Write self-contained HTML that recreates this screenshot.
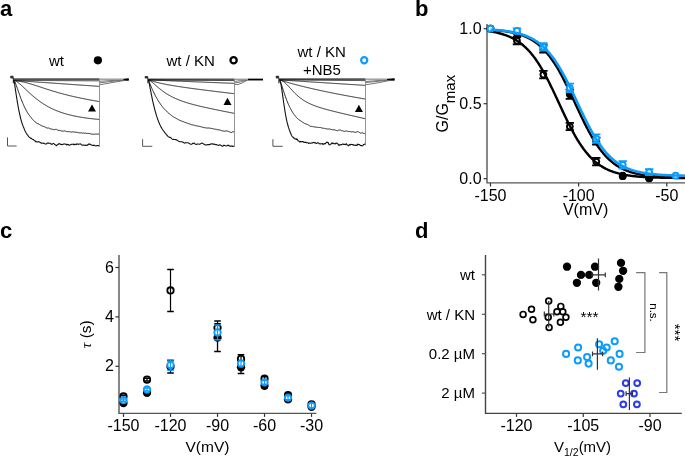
<!DOCTYPE html>
<html><head><meta charset="utf-8"><style>
html,body{margin:0;padding:0;background:#fff;width:685px;height:457px;overflow:hidden}
svg{display:block;will-change:transform}
text{font-family:"Liberation Sans",sans-serif;fill:#000}
</style></head><body>
<svg width="685" height="457" viewBox="0 0 685 457">
<text x="0" y="16" font-size="22" text-anchor="start" font-weight="bold" >a</text>
<text x="415" y="16" font-size="22" text-anchor="start" font-weight="bold" >b</text>
<text x="0" y="238" font-size="22" text-anchor="start" font-weight="bold" >c</text>
<text x="415" y="238" font-size="22" text-anchor="start" font-weight="bold" >d</text>
<rect x="10.2" y="75.8" width="3.4" height="2.6" rx="0.8" fill="#333"/>
<line x1="13.4" y1="77.7" x2="13.4" y2="83.2" stroke="#333" stroke-width="1.2"/>
<line x1="13.9" y1="79.2" x2="99.5" y2="79.2" stroke="#555" stroke-width="1.7"/>
<polyline points="13.90,80.40 14.40,80.40 14.90,80.40 15.40,80.41 15.90,80.41 16.40,80.41 16.90,80.41 17.40,80.42 17.90,80.42 18.41,80.42 18.91,80.42 19.41,80.43 19.91,80.43 20.41,80.43 20.91,80.43 21.41,80.44 21.91,80.44 22.41,80.44 22.91,80.44 23.41,80.44 23.91,80.45 24.41,80.45 24.91,80.45 25.41,80.45 25.91,80.46 26.41,80.46 26.92,80.46 27.42,80.46 27.92,80.47 28.42,80.47 28.92,80.47 29.42,80.47 29.92,80.47 30.42,80.48 30.92,80.48 31.42,80.48 31.92,80.48 32.42,80.49 32.92,80.49 33.42,80.49 33.92,80.49 34.42,80.50 34.92,80.50 35.43,80.50 35.93,80.50 36.43,80.51 36.93,80.51 37.43,80.51 37.93,80.51 38.43,80.51 38.93,80.52 39.43,80.52 39.93,80.52 40.43,80.52 40.93,80.53 41.43,80.53 41.93,80.53 42.43,80.53 42.93,80.54 43.43,80.54 43.94,80.54 44.44,80.54 44.94,80.55 45.44,80.55 45.94,80.55 46.44,80.55 46.94,80.55 47.44,80.56 47.94,80.56 48.44,80.56 48.94,80.56 49.44,80.57 49.94,80.57 50.44,80.57 50.94,80.57 51.44,80.58 51.94,80.58 52.45,80.58 52.95,80.58 53.45,80.58 53.95,80.59 54.45,80.59 54.95,80.59 55.45,80.59 55.95,80.60 56.45,80.60 56.95,80.60 57.45,80.60 57.95,80.61 58.45,80.61 58.95,80.61 59.45,80.61 59.95,80.62 60.45,80.62 60.95,80.62 61.46,80.62 61.96,80.62 62.46,80.63 62.96,80.63 63.46,80.63 63.96,80.63 64.46,80.64 64.96,80.64 65.46,80.64 65.96,80.64 66.46,80.65 66.96,80.65 67.46,80.65 67.96,80.65 68.46,80.65 68.96,80.66 69.46,80.66 69.97,80.66 70.47,80.66 70.97,80.67 71.47,80.67 71.97,80.67 72.47,80.67 72.97,80.68 73.47,80.68 73.97,80.68 74.47,80.68 74.97,80.69 75.47,80.69 75.97,80.69 76.47,80.69 76.97,80.69 77.47,80.70 77.97,80.70 78.48,80.70 78.98,80.70 79.48,80.71 79.98,80.71 80.48,80.71 80.98,80.71 81.48,80.72 81.98,80.72 82.48,80.72 82.98,80.72 83.48,80.73 83.98,80.73 84.48,80.73 84.98,80.73 85.48,80.73 85.98,80.74 86.48,80.74 86.99,80.74 87.49,80.74 87.99,80.75 88.49,80.75 88.99,80.75 89.49,80.75 89.99,80.76 90.49,80.76 90.99,80.76 91.49,80.76 91.99,80.76 92.49,80.77 92.99,80.77 93.49,80.77 93.99,80.77 94.49,80.78 94.99,80.78 95.50,80.78 96.00,80.78 96.50,80.79 97.00,80.79 97.50,80.79 98.00,80.79 98.50,80.80 99.00,80.80 99.50,80.80" fill="none" stroke="#111" stroke-width="0.9" stroke-linejoin="round"/>
<polyline points="13.90,80.40 14.40,80.44 14.90,80.47 15.40,80.51 15.90,80.54 16.40,80.58 16.90,80.61 17.40,80.65 17.90,80.68 18.41,80.72 18.91,80.75 19.41,80.79 19.91,80.82 20.41,80.86 20.91,80.89 21.41,80.93 21.91,80.96 22.41,81.00 22.91,81.03 23.41,81.07 23.91,81.10 24.41,81.14 24.91,81.17 25.41,81.21 25.91,81.24 26.41,81.28 26.92,81.31 27.42,81.35 27.92,81.38 28.42,81.42 28.92,81.45 29.42,81.49 29.92,81.52 30.42,81.56 30.92,81.59 31.42,81.63 31.92,81.66 32.42,81.70 32.92,81.73 33.42,81.77 33.92,81.80 34.42,81.84 34.92,81.87 35.43,81.91 35.93,81.94 36.43,81.98 36.93,82.01 37.43,82.05 37.93,82.08 38.43,82.12 38.93,82.15 39.43,82.19 39.93,82.22 40.43,82.26 40.93,82.29 41.43,82.33 41.93,82.36 42.43,82.40 42.93,82.44 43.43,82.47 43.94,82.51 44.44,82.54 44.94,82.58 45.44,82.61 45.94,82.65 46.44,82.68 46.94,82.72 47.44,82.75 47.94,82.79 48.44,82.82 48.94,82.86 49.44,82.89 49.94,82.93 50.44,82.96 50.94,83.00 51.44,83.03 51.94,83.07 52.45,83.10 52.95,83.14 53.45,83.17 53.95,83.21 54.45,83.24 54.95,83.28 55.45,83.31 55.95,83.35 56.45,83.38 56.95,83.42 57.45,83.45 57.95,83.49 58.45,83.52 58.95,83.56 59.45,83.59 59.95,83.63 60.45,83.66 60.95,83.70 61.46,83.73 61.96,83.77 62.46,83.80 62.96,83.84 63.46,83.87 63.96,83.91 64.46,83.94 64.96,83.98 65.46,84.01 65.96,84.05 66.46,84.08 66.96,84.12 67.46,84.15 67.96,84.19 68.46,84.22 68.96,84.26 69.46,84.29 69.97,84.33 70.47,84.36 70.97,84.40 71.47,84.44 71.97,84.47 72.47,84.51 72.97,84.54 73.47,84.58 73.97,84.61 74.47,84.65 74.97,84.68 75.47,84.72 75.97,84.75 76.47,84.79 76.97,84.82 77.47,84.86 77.97,84.89 78.48,84.93 78.98,84.96 79.48,85.00 79.98,85.03 80.48,85.07 80.98,85.10 81.48,85.14 81.98,85.17 82.48,85.21 82.98,85.24 83.48,85.28 83.98,85.31 84.48,85.35 84.98,85.38 85.48,85.42 85.98,85.45 86.48,85.49 86.99,85.52 87.49,85.56 87.99,85.59 88.49,85.63 88.99,85.66 89.49,85.70 89.99,85.73 90.49,85.77 90.99,85.80 91.49,85.84 91.99,85.87 92.49,85.91 92.99,85.94 93.49,85.98 93.99,86.01 94.49,86.05 94.99,86.08 95.50,86.12 96.00,86.15 96.50,86.19 97.00,86.22 97.50,86.26 98.00,86.29 98.50,86.33 99.00,86.36 99.50,86.40" fill="none" stroke="#111" stroke-width="0.9" stroke-linejoin="round"/>
<polyline points="13.90,80.40 14.40,80.47 14.90,80.53 15.40,80.60 15.90,80.67 16.40,80.74 16.90,80.81 17.40,80.88 17.90,80.96 18.41,81.04 18.91,81.12 19.41,81.21 19.91,81.30 20.41,81.39 20.91,81.48 21.41,81.58 21.91,81.68 22.41,81.79 22.91,81.89 23.41,82.01 23.91,82.12 24.41,82.24 24.91,82.36 25.41,82.48 25.91,82.61 26.41,82.74 26.92,82.87 27.42,83.00 27.92,83.14 28.42,83.28 28.92,83.42 29.42,83.56 29.92,83.71 30.42,83.85 30.92,84.00 31.42,84.15 31.92,84.31 32.42,84.46 32.92,84.62 33.42,84.77 33.92,84.93 34.42,85.09 34.92,85.25 35.43,85.41 35.93,85.57 36.43,85.74 36.93,85.90 37.43,86.06 37.93,86.23 38.43,86.39 38.93,86.56 39.43,86.72 39.93,86.89 40.43,87.05 40.93,87.22 41.43,87.38 41.93,87.55 42.43,87.71 42.93,87.88 43.43,88.04 43.94,88.21 44.44,88.37 44.94,88.54 45.44,88.70 45.94,88.86 46.44,89.02 46.94,89.19 47.44,89.35 47.94,89.51 48.44,89.67 48.94,89.83 49.44,89.99 49.94,90.14 50.44,90.30 50.94,90.46 51.44,90.61 51.94,90.77 52.45,90.92 52.95,91.07 53.45,91.22 53.95,91.38 54.45,91.53 54.95,91.68 55.45,91.82 55.95,91.97 56.45,92.12 56.95,92.26 57.45,92.41 57.95,92.55 58.45,92.69 58.95,92.84 59.45,92.98 59.95,93.12 60.45,93.25 60.95,93.39 61.46,93.53 61.96,93.67 62.46,93.80 62.96,93.93 63.46,94.07 63.96,94.20 64.46,94.33 64.96,94.46 65.46,94.59 65.96,94.72 66.46,94.84 66.96,94.97 67.46,95.10 67.96,95.22 68.46,95.34 68.96,95.47 69.46,95.59 69.97,95.71 70.47,95.83 70.97,95.95 71.47,96.07 71.97,96.18 72.47,96.30 72.97,96.42 73.47,96.53 73.97,96.65 74.47,96.76 74.97,96.87 75.47,96.98 75.97,97.09 76.47,97.20 76.97,97.31 77.47,97.42 77.97,97.53 78.48,97.64 78.98,97.74 79.48,97.85 79.98,97.96 80.48,98.06 80.98,98.16 81.48,98.27 81.98,98.37 82.48,98.47 82.98,98.57 83.48,98.67 83.98,98.77 84.48,98.87 84.98,98.97 85.48,99.07 85.98,99.16 86.48,99.26 86.99,99.36 87.49,99.45 87.99,99.55 88.49,99.64 88.99,99.74 89.49,99.83 89.99,99.92 90.49,100.02 90.99,100.11 91.49,100.20 91.99,100.29 92.49,100.38 92.99,100.47 93.49,100.56 93.99,100.65 94.49,100.74 94.99,100.83 95.50,100.91 96.00,101.00 96.50,101.09 97.00,101.18 97.50,101.26 98.00,101.35 98.50,101.43 99.00,101.52 99.50,101.60" fill="none" stroke="#111" stroke-width="0.9" stroke-linejoin="round"/>
<polyline points="13.90,80.40 14.40,80.48 14.90,80.64 15.40,80.86 15.90,81.11 16.40,81.40 16.90,81.72 17.40,82.06 17.90,82.42 18.41,82.80 18.91,83.20 19.41,83.62 19.91,84.04 20.41,84.48 20.91,84.92 21.41,85.37 21.91,85.83 22.41,86.29 22.91,86.76 23.41,87.23 23.91,87.70 24.41,88.18 24.91,88.65 25.41,89.13 25.91,89.60 26.41,90.08 26.92,90.55 27.42,91.02 27.92,91.49 28.42,91.96 28.92,92.42 29.42,92.89 29.92,93.34 30.42,93.80 30.92,94.25 31.42,94.69 31.92,95.13 32.42,95.57 32.92,96.00 33.42,96.43 33.92,96.86 34.42,97.27 34.92,97.69 35.43,98.09 35.93,98.50 36.43,98.90 36.93,99.29 37.43,99.67 37.93,100.06 38.43,100.43 38.93,100.80 39.43,101.17 39.93,101.53 40.43,101.88 40.93,102.23 41.43,102.58 41.93,102.92 42.43,103.25 42.93,103.58 43.43,103.90 43.94,104.22 44.44,104.53 44.94,104.84 45.44,105.14 45.94,105.44 46.44,105.74 46.94,106.02 47.44,106.31 47.94,106.58 48.44,106.86 48.94,107.13 49.44,107.39 49.94,107.65 50.44,107.91 50.94,108.16 51.44,108.40 51.94,108.64 52.45,108.88 52.95,109.12 53.45,109.35 53.95,109.57 54.45,109.79 54.95,110.01 55.45,110.22 55.95,110.43 56.45,110.64 56.95,110.84 57.45,111.04 57.95,111.23 58.45,111.42 58.95,111.61 59.45,111.80 59.95,111.98 60.45,112.15 60.95,112.33 61.46,112.50 61.96,112.67 62.46,112.83 62.96,112.99 63.46,113.15 63.96,113.31 64.46,113.46 64.96,113.61 65.46,113.76 65.96,113.91 66.46,114.05 66.96,114.19 67.46,114.32 67.96,114.46 68.46,114.59 68.96,114.72 69.46,114.85 69.97,114.97 70.47,115.10 70.97,115.22 71.47,115.33 71.97,115.45 72.47,115.56 72.97,115.68 73.47,115.79 73.97,115.89 74.47,116.00 74.97,116.10 75.47,116.21 75.97,116.31 76.47,116.40 76.97,116.50 77.47,116.60 77.97,116.69 78.48,116.78 78.98,116.87 79.48,116.96 79.98,117.05 80.48,117.13 80.98,117.21 81.48,117.30 81.98,117.38 82.48,117.46 82.98,117.54 83.48,117.61 83.98,117.69 84.48,117.76 84.98,117.83 85.48,117.91 85.98,117.98 86.48,118.05 86.99,118.11 87.49,118.18 87.99,118.25 88.49,118.31 88.99,118.38 89.49,118.44 89.99,118.50 90.49,118.56 90.99,118.62 91.49,118.68 91.99,118.74 92.49,118.79 92.99,118.85 93.49,118.90 93.99,118.96 94.49,119.01 94.99,119.06 95.50,119.11 96.00,119.16 96.50,119.21 97.00,119.26 97.50,119.31 98.00,119.36 98.50,119.41 99.00,119.45 99.50,119.50" fill="none" stroke="#111" stroke-width="0.9" stroke-linejoin="round"/>
<polyline points="13.90,80.40 14.40,80.94 14.90,81.88 15.40,83.02 15.90,84.30 16.40,85.66 16.90,87.08 17.40,88.53 17.90,89.99 18.41,91.45 18.91,92.90 19.41,94.34 19.91,95.75 20.41,97.13 20.91,98.47 21.41,99.78 21.91,101.06 22.41,102.29 22.91,103.49 23.41,104.65 23.91,105.77 24.41,106.85 24.91,107.87 25.41,108.87 25.91,109.82 26.41,110.77 26.92,111.64 27.42,112.51 27.92,113.30 28.42,114.09 28.92,114.74 29.42,115.42 29.92,116.04 30.42,116.72 30.92,117.32 31.42,117.97 31.92,118.58 32.42,119.13 32.92,119.75 33.42,120.26 33.92,120.76 34.42,121.30 34.92,121.81 35.43,122.14 35.93,122.54 36.43,122.99 36.93,123.19 37.43,123.43 37.93,123.74 38.43,123.92 38.93,124.06 39.43,124.48 39.93,124.78 40.43,125.05 40.93,125.48 41.43,125.70 41.93,125.88 42.43,126.09 42.93,126.21 43.43,126.34 43.94,126.62 44.44,126.76 44.94,126.93 45.44,127.27 45.94,127.55 46.44,127.76 46.94,127.95 47.44,128.07 47.94,128.06 48.44,128.01 48.94,128.11 49.44,128.33 49.94,128.62 50.44,128.82 50.94,129.00 51.44,129.11 51.94,129.15 52.45,129.23 52.95,129.47 53.45,129.54 53.95,129.82 54.45,129.71 54.95,129.57 55.45,129.37 55.95,129.42 56.45,129.28 56.95,129.77 57.45,129.95 57.95,130.29 58.45,130.44 58.95,130.55 59.45,130.31 59.95,130.69 60.45,130.64 60.95,130.68 61.46,130.97 61.96,131.17 62.46,131.04 62.96,131.09 63.46,131.13 63.96,130.80 64.46,130.82 64.96,131.01 65.46,131.13 65.96,131.26 66.46,131.59 66.96,131.57 67.46,131.60 67.96,131.60 68.46,131.59 68.96,131.60 69.46,131.81 69.97,131.67 70.47,131.75 70.97,132.01 71.47,132.15 71.97,132.04 72.47,131.83 72.97,132.09 73.47,132.00 73.97,131.84 74.47,132.04 74.97,132.34 75.47,132.27 75.97,132.21 76.47,132.28 76.97,132.13 77.47,132.41 77.97,132.30 78.48,132.63 78.98,132.87 79.48,132.92 79.98,132.76 80.48,132.92 80.98,132.84 81.48,132.70 81.98,133.00 82.48,133.19 82.98,133.07 83.48,133.09 83.98,133.24 84.48,133.20 84.98,133.15 85.48,133.13 85.98,133.42 86.48,133.35 86.99,133.40 87.49,133.42 87.99,133.62 88.49,133.46 88.99,133.43 89.49,133.49 89.99,133.69 90.49,133.78 90.99,133.90 91.49,134.12 91.99,134.12 92.49,134.25 92.99,134.15 93.49,134.15 93.99,134.27 94.49,134.35 94.99,134.01 95.50,133.99 96.00,134.20 96.50,133.97 97.00,133.98 97.50,134.24 98.00,134.45 98.50,134.03 99.00,134.17 99.50,134.14" fill="none" stroke="#111" stroke-width="0.9" stroke-linejoin="round"/>
<polyline points="13.90,80.40 14.40,82.78 14.90,85.96 15.40,89.34 15.90,92.74 16.40,96.07 16.90,99.29 17.40,102.36 17.90,105.26 18.41,107.99 18.91,110.58 19.41,112.96 19.91,115.20 20.41,117.32 20.91,119.33 21.41,121.15 21.91,122.84 22.41,124.32 22.91,125.67 23.41,126.95 23.91,128.08 24.41,129.35 24.91,130.64 25.41,131.62 25.91,132.60 26.41,133.49 26.92,134.13 27.42,134.92 27.92,135.51 28.42,136.17 28.92,136.88 29.42,137.20 29.92,137.50 30.42,138.14 30.92,138.24 31.42,138.37 31.92,138.89 32.42,139.24 32.92,139.46 33.42,139.57 33.92,140.09 34.42,140.60 34.92,140.67 35.43,141.10 35.93,141.99 36.43,141.70 36.93,141.64 37.43,141.84 37.93,141.92 38.43,141.63 38.93,141.78 39.43,142.18 39.93,142.32 40.43,142.45 40.93,143.02 41.43,143.22 41.93,142.99 42.43,143.30 42.93,143.21 43.43,142.94 43.94,143.14 44.44,143.81 44.94,143.81 45.44,143.95 45.94,143.93 46.44,144.05 46.94,143.24 47.44,143.10 47.94,143.22 48.44,143.00 48.94,142.96 49.44,143.30 49.94,143.28 50.44,143.66 50.94,144.06 51.44,144.15 51.94,144.04 52.45,144.19 52.95,143.66 53.45,143.53 53.95,143.53 54.45,144.21 54.95,144.48 55.45,144.91 55.95,145.22 56.45,145.77 56.95,145.16 57.45,144.65 57.95,144.37 58.45,144.17 58.95,143.63 59.45,143.65 59.95,144.07 60.45,144.40 60.95,144.41 61.46,144.38 61.96,144.77 62.46,144.58 62.96,144.18 63.46,144.22 63.96,143.82 64.46,143.97 64.96,144.03 65.46,144.23 65.96,144.25 66.46,144.82 66.96,144.17 67.46,144.58 67.96,144.61 68.46,144.62 68.96,145.21 69.46,145.24 69.97,145.04 70.47,144.92 70.97,144.57 71.47,144.33 71.97,144.29 72.47,144.18 72.97,144.20 73.47,144.57 73.97,143.98 74.47,144.61 74.97,144.65 75.47,144.42 75.97,144.14 76.47,144.41 76.97,143.90 77.47,143.95 77.97,144.31 78.48,144.46 78.98,144.01 79.48,143.99 79.98,144.00 80.48,143.83 80.98,144.37 81.48,144.70 81.98,145.07 82.48,145.16 82.98,145.30 83.48,144.99 83.98,145.32 84.48,145.22 84.98,145.17 85.48,145.09 85.98,145.47 86.48,145.31 86.99,145.53 87.49,144.84 87.99,144.83 88.49,144.17 88.99,144.16 89.49,143.90 89.99,144.33 90.49,144.39 90.99,144.83 91.49,145.07 91.99,145.06 92.49,145.54 92.99,145.48 93.49,145.46 93.99,145.05 94.49,145.41 94.99,145.70 95.50,145.79 96.00,145.94 96.50,145.83 97.00,145.48 97.50,145.57 98.00,145.64 98.50,145.50 99.00,145.97 99.50,146.44" fill="none" stroke="#111" stroke-width="1.1" stroke-linejoin="round"/>
<path d="M99.5,81.3 Q112,80.3 128.5,79.8" fill="none" stroke="#666" stroke-width="0.9"/>
<path d="M99.5,82.8 Q112,81.2 128.5,79.8" fill="none" stroke="#666" stroke-width="0.9"/>
<path d="M99.5,84.8 Q112,82.5 128.5,79.8" fill="none" stroke="#666" stroke-width="0.9"/>
<line x1="99.5" y1="79.2" x2="129" y2="79.2" stroke="#999" stroke-width="1.4"/>
<line x1="99.5" y1="79.2" x2="99.5" y2="145.8" stroke="#888" stroke-width="0.9"/>
<path d="M123.5,79.1 L128.5,78.3 Q129.3,79.5 128.5,80.7 L123.5,79.9 Z" fill="#000"/>
<path d="M88,111.6 L92,104.4 L96,111.6 Z" fill="#000"/>
<path d="M7.5,137.4 V146 H16.6" fill="none" stroke="#555" stroke-width="1"/>
<rect x="144.70000000000002" y="75.89999999999999" width="3.4" height="2.6" rx="0.8" fill="#333"/>
<line x1="147.9" y1="77.8" x2="147.9" y2="83.3" stroke="#333" stroke-width="1.2"/>
<line x1="148.4" y1="79.3" x2="234.5" y2="79.3" stroke="#555" stroke-width="1.7"/>
<polyline points="148.40,79.90 148.90,79.90 149.40,79.91 149.90,79.91 150.40,79.92 150.90,79.92 151.40,79.92 151.90,79.93 152.40,79.93 152.91,79.94 153.41,79.94 153.91,79.94 154.41,79.95 154.91,79.95 155.41,79.96 155.91,79.96 156.41,79.97 156.91,79.97 157.41,79.97 157.91,79.98 158.41,79.98 158.91,79.99 159.41,79.99 159.91,79.99 160.41,80.00 160.91,80.00 161.42,80.01 161.92,80.01 162.42,80.01 162.92,80.02 163.42,80.02 163.92,80.03 164.42,80.03 164.92,80.03 165.42,80.04 165.92,80.04 166.42,80.05 166.92,80.05 167.42,80.05 167.92,80.06 168.42,80.06 168.92,80.07 169.42,80.07 169.93,80.08 170.43,80.08 170.93,80.08 171.43,80.09 171.93,80.09 172.43,80.10 172.93,80.10 173.43,80.10 173.93,80.11 174.43,80.11 174.93,80.12 175.43,80.12 175.93,80.12 176.43,80.13 176.93,80.13 177.43,80.14 177.93,80.14 178.43,80.14 178.94,80.15 179.44,80.15 179.94,80.16 180.44,80.16 180.94,80.16 181.44,80.17 181.94,80.17 182.44,80.18 182.94,80.18 183.44,80.18 183.94,80.19 184.44,80.19 184.94,80.20 185.44,80.20 185.94,80.21 186.44,80.21 186.94,80.21 187.45,80.22 187.95,80.22 188.45,80.23 188.95,80.23 189.45,80.23 189.95,80.24 190.45,80.24 190.95,80.25 191.45,80.25 191.95,80.25 192.45,80.26 192.95,80.26 193.45,80.27 193.95,80.27 194.45,80.27 194.95,80.28 195.45,80.28 195.96,80.29 196.46,80.29 196.96,80.29 197.46,80.30 197.96,80.30 198.46,80.31 198.96,80.31 199.46,80.32 199.96,80.32 200.46,80.32 200.96,80.33 201.46,80.33 201.96,80.34 202.46,80.34 202.96,80.34 203.46,80.35 203.96,80.35 204.47,80.36 204.97,80.36 205.47,80.36 205.97,80.37 206.47,80.37 206.97,80.38 207.47,80.38 207.97,80.38 208.47,80.39 208.97,80.39 209.47,80.40 209.97,80.40 210.47,80.40 210.97,80.41 211.47,80.41 211.97,80.42 212.47,80.42 212.98,80.42 213.48,80.43 213.98,80.43 214.48,80.44 214.98,80.44 215.48,80.45 215.98,80.45 216.48,80.45 216.98,80.46 217.48,80.46 217.98,80.47 218.48,80.47 218.98,80.47 219.48,80.48 219.98,80.48 220.48,80.49 220.98,80.49 221.48,80.49 221.99,80.50 222.49,80.50 222.99,80.51 223.49,80.51 223.99,80.51 224.49,80.52 224.99,80.52 225.49,80.53 225.99,80.53 226.49,80.53 226.99,80.54 227.49,80.54 227.99,80.55 228.49,80.55 228.99,80.56 229.49,80.56 229.99,80.56 230.50,80.57 231.00,80.57 231.50,80.58 232.00,80.58 232.50,80.58 233.00,80.59 233.50,80.59 234.00,80.60 234.50,80.60" fill="none" stroke="#111" stroke-width="0.9" stroke-linejoin="round"/>
<polyline points="148.40,79.90 148.90,79.92 149.40,79.94 149.90,79.96 150.40,79.98 150.90,80.00 151.40,80.02 151.90,80.04 152.40,80.06 152.91,80.08 153.41,80.10 153.91,80.12 154.41,80.14 154.91,80.16 155.41,80.18 155.91,80.21 156.41,80.23 156.91,80.25 157.41,80.27 157.91,80.29 158.41,80.31 158.91,80.33 159.41,80.35 159.91,80.37 160.41,80.39 160.91,80.41 161.42,80.43 161.92,80.45 162.42,80.47 162.92,80.49 163.42,80.51 163.92,80.53 164.42,80.55 164.92,80.57 165.42,80.59 165.92,80.61 166.42,80.63 166.92,80.65 167.42,80.67 167.92,80.69 168.42,80.71 168.92,80.73 169.42,80.75 169.93,80.78 170.43,80.80 170.93,80.82 171.43,80.84 171.93,80.86 172.43,80.88 172.93,80.90 173.43,80.92 173.93,80.94 174.43,80.96 174.93,80.98 175.43,81.00 175.93,81.02 176.43,81.04 176.93,81.06 177.43,81.08 177.93,81.10 178.43,81.12 178.94,81.14 179.44,81.16 179.94,81.18 180.44,81.20 180.94,81.22 181.44,81.24 181.94,81.26 182.44,81.28 182.94,81.30 183.44,81.32 183.94,81.34 184.44,81.37 184.94,81.39 185.44,81.41 185.94,81.43 186.44,81.45 186.94,81.47 187.45,81.49 187.95,81.51 188.45,81.53 188.95,81.55 189.45,81.57 189.95,81.59 190.45,81.61 190.95,81.63 191.45,81.65 191.95,81.67 192.45,81.69 192.95,81.71 193.45,81.73 193.95,81.75 194.45,81.77 194.95,81.79 195.45,81.81 195.96,81.83 196.46,81.85 196.96,81.87 197.46,81.89 197.96,81.91 198.46,81.93 198.96,81.96 199.46,81.98 199.96,82.00 200.46,82.02 200.96,82.04 201.46,82.06 201.96,82.08 202.46,82.10 202.96,82.12 203.46,82.14 203.96,82.16 204.47,82.18 204.97,82.20 205.47,82.22 205.97,82.24 206.47,82.26 206.97,82.28 207.47,82.30 207.97,82.32 208.47,82.34 208.97,82.36 209.47,82.38 209.97,82.40 210.47,82.42 210.97,82.44 211.47,82.46 211.97,82.48 212.47,82.50 212.98,82.53 213.48,82.55 213.98,82.57 214.48,82.59 214.98,82.61 215.48,82.63 215.98,82.65 216.48,82.67 216.98,82.69 217.48,82.71 217.98,82.73 218.48,82.75 218.98,82.77 219.48,82.79 219.98,82.81 220.48,82.83 220.98,82.85 221.48,82.87 221.99,82.89 222.49,82.91 222.99,82.93 223.49,82.95 223.99,82.97 224.49,82.99 224.99,83.01 225.49,83.03 225.99,83.05 226.49,83.07 226.99,83.09 227.49,83.12 227.99,83.14 228.49,83.16 228.99,83.18 229.49,83.20 229.99,83.22 230.50,83.24 231.00,83.26 231.50,83.28 232.00,83.30 232.50,83.32 233.00,83.34 233.50,83.36 234.00,83.38 234.50,83.40" fill="none" stroke="#111" stroke-width="0.9" stroke-linejoin="round"/>
<polyline points="148.40,79.90 148.90,80.07 149.40,80.23 149.90,80.39 150.40,80.55 150.90,80.70 151.40,80.85 151.90,81.00 152.40,81.15 152.91,81.29 153.41,81.43 153.91,81.57 154.41,81.70 154.91,81.84 155.41,81.97 155.91,82.10 156.41,82.23 156.91,82.35 157.41,82.48 157.91,82.60 158.41,82.72 158.91,82.84 159.41,82.96 159.91,83.07 160.41,83.18 160.91,83.30 161.42,83.41 161.92,83.51 162.42,83.62 162.92,83.73 163.42,83.83 163.92,83.93 164.42,84.04 164.92,84.14 165.42,84.24 165.92,84.34 166.42,84.43 166.92,84.53 167.42,84.62 167.92,84.72 168.42,84.81 168.92,84.90 169.42,84.99 169.93,85.08 170.43,85.17 170.93,85.26 171.43,85.35 171.93,85.44 172.43,85.52 172.93,85.61 173.43,85.69 173.93,85.77 174.43,85.86 174.93,85.94 175.43,86.02 175.93,86.10 176.43,86.18 176.93,86.26 177.43,86.34 177.93,86.42 178.43,86.50 178.94,86.57 179.44,86.65 179.94,86.73 180.44,86.80 180.94,86.88 181.44,86.95 181.94,87.03 182.44,87.10 182.94,87.18 183.44,87.25 183.94,87.32 184.44,87.39 184.94,87.47 185.44,87.54 185.94,87.61 186.44,87.68 186.94,87.75 187.45,87.82 187.95,87.89 188.45,87.96 188.95,88.03 189.45,88.10 189.95,88.17 190.45,88.24 190.95,88.30 191.45,88.37 191.95,88.44 192.45,88.51 192.95,88.58 193.45,88.64 193.95,88.71 194.45,88.78 194.95,88.84 195.45,88.91 195.96,88.97 196.46,89.04 196.96,89.11 197.46,89.17 197.96,89.24 198.46,89.30 198.96,89.37 199.46,89.43 199.96,89.49 200.46,89.56 200.96,89.62 201.46,89.69 201.96,89.75 202.46,89.82 202.96,89.88 203.46,89.94 203.96,90.01 204.47,90.07 204.97,90.13 205.47,90.20 205.97,90.26 206.47,90.32 206.97,90.38 207.47,90.45 207.97,90.51 208.47,90.57 208.97,90.63 209.47,90.70 209.97,90.76 210.47,90.82 210.97,90.88 211.47,90.95 211.97,91.01 212.47,91.07 212.98,91.13 213.48,91.19 213.98,91.25 214.48,91.32 214.98,91.38 215.48,91.44 215.98,91.50 216.48,91.56 216.98,91.62 217.48,91.68 217.98,91.74 218.48,91.81 218.98,91.87 219.48,91.93 219.98,91.99 220.48,92.05 220.98,92.11 221.48,92.17 221.99,92.23 222.49,92.29 222.99,92.35 223.49,92.41 223.99,92.47 224.49,92.54 224.99,92.60 225.49,92.66 225.99,92.72 226.49,92.78 226.99,92.84 227.49,92.90 227.99,92.96 228.49,93.02 228.99,93.08 229.49,93.14 229.99,93.20 230.50,93.26 231.00,93.32 231.50,93.38 232.00,93.44 232.50,93.50 233.00,93.56 233.50,93.62 234.00,93.68 234.50,93.74" fill="none" stroke="#111" stroke-width="0.9" stroke-linejoin="round"/>
<polyline points="148.40,79.90 148.90,80.07 149.40,80.32 149.90,80.61 150.40,80.94 150.90,81.30 151.40,81.68 151.90,82.07 152.40,82.48 152.91,82.90 153.41,83.33 153.91,83.76 154.41,84.20 154.91,84.64 155.41,85.07 155.91,85.51 156.41,85.95 156.91,86.38 157.41,86.81 157.91,87.24 158.41,87.66 158.91,88.08 159.41,88.49 159.91,88.90 160.41,89.30 160.91,89.69 161.42,90.08 161.92,90.46 162.42,90.84 162.92,91.21 163.42,91.57 163.92,91.93 164.42,92.28 164.92,92.62 165.42,92.96 165.92,93.29 166.42,93.61 166.92,93.93 167.42,94.24 167.92,94.54 168.42,94.84 168.92,95.13 169.42,95.42 169.93,95.70 170.43,95.98 170.93,96.25 171.43,96.51 171.93,96.77 172.43,97.03 172.93,97.28 173.43,97.52 173.93,97.76 174.43,98.00 174.93,98.23 175.43,98.46 175.93,98.68 176.43,98.90 176.93,99.11 177.43,99.32 177.93,99.53 178.43,99.73 178.94,99.93 179.44,100.13 179.94,100.32 180.44,100.51 180.94,100.70 181.44,100.88 181.94,101.06 182.44,101.24 182.94,101.41 183.44,101.59 183.94,101.76 184.44,101.92 184.94,102.09 185.44,102.25 185.94,102.41 186.44,102.57 186.94,102.72 187.45,102.88 187.95,103.03 188.45,103.18 188.95,103.33 189.45,103.47 189.95,103.62 190.45,103.76 190.95,103.90 191.45,104.04 191.95,104.18 192.45,104.31 192.95,104.45 193.45,104.58 193.95,104.71 194.45,104.84 194.95,104.97 195.45,105.10 195.96,105.23 196.46,105.36 196.96,105.48 197.46,105.60 197.96,105.73 198.46,105.85 198.96,105.97 199.46,106.09 199.96,106.21 200.46,106.33 200.96,106.45 201.46,106.56 201.96,106.68 202.46,106.80 202.96,106.91 203.46,107.02 203.96,107.14 204.47,107.25 204.97,107.36 205.47,107.47 205.97,107.59 206.47,107.70 206.97,107.81 207.47,107.92 207.97,108.02 208.47,108.13 208.97,108.24 209.47,108.35 209.97,108.46 210.47,108.56 210.97,108.67 211.47,108.78 211.97,108.88 212.47,108.99 212.98,109.09 213.48,109.20 213.98,109.30 214.48,109.40 214.98,109.51 215.48,109.61 215.98,109.71 216.48,109.82 216.98,109.92 217.48,110.02 217.98,110.12 218.48,110.23 218.98,110.33 219.48,110.43 219.98,110.53 220.48,110.63 220.98,110.73 221.48,110.83 221.99,110.93 222.49,111.03 222.99,111.13 223.49,111.23 223.99,111.33 224.49,111.43 224.99,111.53 225.49,111.63 225.99,111.73 226.49,111.83 226.99,111.93 227.49,112.03 227.99,112.13 228.49,112.23 228.99,112.32 229.49,112.42 229.99,112.52 230.50,112.62 231.00,112.72 231.50,112.82 232.00,112.91 232.50,113.01 233.00,113.11 233.50,113.21 234.00,113.30 234.50,113.40" fill="none" stroke="#111" stroke-width="0.9" stroke-linejoin="round"/>
<polyline points="148.40,79.90 148.90,81.09 149.40,82.35 149.90,83.61 150.40,84.85 150.90,86.07 151.40,87.27 151.90,88.44 152.40,89.58 152.91,90.69 153.41,91.78 153.91,92.83 154.41,93.85 154.91,94.84 155.41,95.81 155.91,96.75 156.41,97.66 156.91,98.55 157.41,99.41 157.91,100.24 158.41,101.04 158.91,101.83 159.41,102.59 159.91,103.32 160.41,104.04 160.91,104.73 161.42,105.40 161.92,106.06 162.42,106.69 162.92,107.31 163.42,107.93 163.92,108.48 164.42,109.04 164.92,109.58 165.42,110.08 165.92,110.59 166.42,111.14 166.92,111.64 167.42,112.14 167.92,112.59 168.42,113.01 168.92,113.37 169.42,113.79 169.93,114.16 170.43,114.59 170.93,115.00 171.43,115.42 171.93,115.80 172.43,116.20 172.93,116.58 173.43,116.85 173.93,117.19 174.43,117.46 174.93,117.68 175.43,117.95 175.93,118.28 176.43,118.52 176.93,118.82 177.43,119.10 177.93,119.37 178.43,119.68 178.94,119.89 179.44,120.15 179.94,120.42 180.44,120.59 180.94,120.80 181.44,121.07 181.94,121.13 182.44,121.34 182.94,121.61 183.44,121.74 183.94,121.91 184.44,122.19 184.94,122.40 185.44,122.51 185.94,122.67 186.44,122.89 186.94,123.13 187.45,123.15 187.95,123.38 188.45,123.65 188.95,123.73 189.45,123.89 189.95,124.10 190.45,124.28 190.95,124.47 191.45,124.76 191.95,124.65 192.45,124.88 192.95,124.89 193.45,124.95 193.95,125.07 194.45,125.40 194.95,125.63 195.45,125.71 195.96,125.75 196.46,125.74 196.96,125.87 197.46,125.96 197.96,126.13 198.46,126.24 198.96,126.46 199.46,126.42 199.96,126.48 200.46,126.58 200.96,126.75 201.46,126.95 201.96,127.14 202.46,127.20 202.96,127.30 203.46,127.45 203.96,127.51 204.47,127.68 204.97,127.67 205.47,127.86 205.97,128.04 206.47,127.93 206.97,127.95 207.47,128.08 207.97,128.09 208.47,127.96 208.97,128.01 209.47,128.15 209.97,128.31 210.47,128.26 210.97,128.34 211.47,128.48 211.97,128.42 212.47,128.52 212.98,128.78 213.48,128.99 213.98,129.02 214.48,129.13 214.98,129.16 215.48,129.22 215.98,129.23 216.48,129.37 216.98,129.51 217.48,129.79 217.98,129.83 218.48,129.78 218.98,129.96 219.48,129.96 219.98,129.95 220.48,130.21 220.98,130.63 221.48,130.70 221.99,130.70 222.49,130.86 222.99,130.92 223.49,130.96 223.99,131.03 224.49,131.25 224.99,131.16 225.49,130.93 225.99,130.97 226.49,130.97 226.99,131.01 227.49,131.12 227.99,131.31 228.49,131.36 228.99,131.43 229.49,131.84 229.99,132.02 230.50,132.27 231.00,132.29 231.50,132.44 232.00,132.19 232.50,131.89 233.00,131.82 233.50,131.75 234.00,131.70 234.50,131.69" fill="none" stroke="#111" stroke-width="0.9" stroke-linejoin="round"/>
<polyline points="148.40,79.90 148.90,81.79 149.40,84.23 149.90,86.83 150.40,89.46 150.90,92.07 151.40,94.63 151.90,97.12 152.40,99.52 152.91,101.83 153.41,104.05 153.91,106.17 154.41,108.19 154.91,110.12 155.41,111.94 155.91,113.67 156.41,115.31 156.91,116.89 157.41,118.35 157.91,119.77 158.41,121.12 158.91,122.36 159.41,123.51 159.91,124.72 160.41,125.78 160.91,126.68 161.42,127.63 161.92,128.52 162.42,129.24 162.92,129.97 163.42,130.77 163.92,131.40 164.42,132.15 164.92,132.77 165.42,133.39 165.92,133.94 166.42,134.68 166.92,135.00 167.42,135.70 167.92,136.32 168.42,136.81 168.92,136.94 169.42,137.23 169.93,137.35 170.43,137.51 170.93,137.81 171.43,138.38 171.93,138.85 172.43,139.15 172.93,139.42 173.43,139.35 173.93,139.57 174.43,139.54 174.93,139.50 175.43,139.55 175.93,139.92 176.43,139.78 176.93,140.10 177.43,140.51 177.93,140.82 178.43,141.07 178.94,141.29 179.44,141.46 179.94,141.74 180.44,141.74 180.94,141.78 181.44,141.67 181.94,141.79 182.44,141.99 182.94,142.22 183.44,142.30 183.94,142.86 184.44,143.08 184.94,143.07 185.44,142.88 185.94,142.82 186.44,142.81 186.94,142.78 187.45,142.71 187.95,142.73 188.45,143.08 188.95,143.32 189.45,143.47 189.95,143.84 190.45,144.19 190.95,144.15 191.45,144.19 191.95,144.21 192.45,143.54 192.95,143.28 193.45,143.35 193.95,143.04 194.45,143.21 194.95,143.84 195.45,144.32 195.96,144.27 196.46,144.36 196.96,144.25 197.46,144.00 197.96,143.94 198.46,144.08 198.96,144.28 199.46,144.21 199.96,144.18 200.46,143.66 200.96,143.43 201.46,143.12 201.96,143.24 202.46,143.17 202.96,143.57 203.46,143.90 203.96,144.27 204.47,144.36 204.97,144.70 205.47,145.08 205.97,144.94 206.47,145.06 206.97,144.71 207.47,144.60 207.97,144.45 208.47,144.68 208.97,144.48 209.47,144.63 209.97,144.53 210.47,144.12 210.97,143.72 211.47,144.06 211.97,143.90 212.47,143.88 212.98,144.01 213.48,144.32 213.98,144.04 214.48,144.27 214.98,144.35 215.48,144.63 215.98,144.47 216.48,144.60 216.98,144.98 217.48,145.07 217.98,145.17 218.48,145.35 218.98,145.26 219.48,144.81 219.98,145.02 220.48,145.01 220.98,145.34 221.48,145.86 221.99,145.93 222.49,146.15 222.99,146.04 223.49,145.76 223.99,145.17 224.49,145.47 224.99,145.52 225.49,145.68 225.99,145.85 226.49,145.94 226.99,145.83 227.49,145.42 227.99,145.46 228.49,145.09 228.99,145.67 229.49,145.98 229.99,146.14 230.50,146.10 231.00,146.42 231.50,146.06 232.00,145.91 232.50,146.38 233.00,146.42 233.50,146.18 234.00,146.18 234.50,146.12" fill="none" stroke="#111" stroke-width="1.1" stroke-linejoin="round"/>
<path d="M234.5,81.5 Q240,80.5 248,79.7" fill="none" stroke="#666" stroke-width="0.9"/>
<path d="M234.5,83 Q240,82.6 248,79.7" fill="none" stroke="#666" stroke-width="0.9"/>
<path d="M234.5,84.5 L238,84.5 Q242,83.5 248,79.7" fill="none" stroke="#666" stroke-width="0.9"/>
<line x1="234.5" y1="79.3" x2="263" y2="79.3" stroke="#999" stroke-width="1.4"/>
<line x1="234.5" y1="79.3" x2="234.5" y2="146.8" stroke="#888" stroke-width="0.9"/>
<line x1="248" y1="79.6" x2="263" y2="79.6" stroke="#000" stroke-width="1.7"/>
<path d="M223.5,105.0 L227.5,97.80000000000001 L231.5,105.0 Z" fill="#000"/>
<path d="M142.6,139.2 V146.3 H152.3" fill="none" stroke="#555" stroke-width="1"/>
<rect x="275.7" y="75.8" width="3.4" height="2.6" rx="0.8" fill="#333"/>
<line x1="278.9" y1="77.7" x2="278.9" y2="83.2" stroke="#333" stroke-width="1.2"/>
<line x1="279.4" y1="79.2" x2="365.5" y2="79.2" stroke="#555" stroke-width="1.7"/>
<polyline points="279.40,79.90 279.90,79.90 280.40,79.91 280.90,79.91 281.40,79.92 281.90,79.92 282.40,79.92 282.90,79.93 283.40,79.93 283.91,79.94 284.41,79.94 284.91,79.94 285.41,79.95 285.91,79.95 286.41,79.96 286.91,79.96 287.41,79.97 287.91,79.97 288.41,79.97 288.91,79.98 289.41,79.98 289.91,79.99 290.41,79.99 290.91,79.99 291.41,80.00 291.91,80.00 292.42,80.01 292.92,80.01 293.42,80.01 293.92,80.02 294.42,80.02 294.92,80.03 295.42,80.03 295.92,80.03 296.42,80.04 296.92,80.04 297.42,80.05 297.92,80.05 298.42,80.05 298.92,80.06 299.42,80.06 299.92,80.07 300.42,80.07 300.92,80.08 301.43,80.08 301.93,80.08 302.43,80.09 302.93,80.09 303.43,80.10 303.93,80.10 304.43,80.10 304.93,80.11 305.43,80.11 305.93,80.12 306.43,80.12 306.93,80.12 307.43,80.13 307.93,80.13 308.43,80.14 308.93,80.14 309.43,80.14 309.94,80.15 310.44,80.15 310.94,80.16 311.44,80.16 311.94,80.16 312.44,80.17 312.94,80.17 313.44,80.18 313.94,80.18 314.44,80.18 314.94,80.19 315.44,80.19 315.94,80.20 316.44,80.20 316.94,80.21 317.44,80.21 317.94,80.21 318.45,80.22 318.95,80.22 319.45,80.23 319.95,80.23 320.45,80.23 320.95,80.24 321.45,80.24 321.95,80.25 322.45,80.25 322.95,80.25 323.45,80.26 323.95,80.26 324.45,80.27 324.95,80.27 325.45,80.27 325.95,80.28 326.45,80.28 326.96,80.29 327.46,80.29 327.96,80.29 328.46,80.30 328.96,80.30 329.46,80.31 329.96,80.31 330.46,80.32 330.96,80.32 331.46,80.32 331.96,80.33 332.46,80.33 332.96,80.34 333.46,80.34 333.96,80.34 334.46,80.35 334.96,80.35 335.47,80.36 335.97,80.36 336.47,80.36 336.97,80.37 337.47,80.37 337.97,80.38 338.47,80.38 338.97,80.38 339.47,80.39 339.97,80.39 340.47,80.40 340.97,80.40 341.47,80.40 341.97,80.41 342.47,80.41 342.97,80.42 343.47,80.42 343.98,80.42 344.48,80.43 344.98,80.43 345.48,80.44 345.98,80.44 346.48,80.45 346.98,80.45 347.48,80.45 347.98,80.46 348.48,80.46 348.98,80.47 349.48,80.47 349.98,80.47 350.48,80.48 350.98,80.48 351.48,80.49 351.98,80.49 352.48,80.49 352.99,80.50 353.49,80.50 353.99,80.51 354.49,80.51 354.99,80.51 355.49,80.52 355.99,80.52 356.49,80.53 356.99,80.53 357.49,80.53 357.99,80.54 358.49,80.54 358.99,80.55 359.49,80.55 359.99,80.56 360.49,80.56 360.99,80.56 361.50,80.57 362.00,80.57 362.50,80.58 363.00,80.58 363.50,80.58 364.00,80.59 364.50,80.59 365.00,80.60 365.50,80.60" fill="none" stroke="#111" stroke-width="0.9" stroke-linejoin="round"/>
<polyline points="279.40,79.90 279.90,79.93 280.40,79.96 280.90,80.00 281.40,80.03 281.90,80.06 282.40,80.09 282.90,80.12 283.40,80.16 283.91,80.19 284.41,80.22 284.91,80.25 285.41,80.28 285.91,80.32 286.41,80.35 286.91,80.38 287.41,80.41 287.91,80.44 288.41,80.48 288.91,80.51 289.41,80.54 289.91,80.57 290.41,80.60 290.91,80.64 291.41,80.67 291.91,80.70 292.42,80.73 292.92,80.76 293.42,80.80 293.92,80.83 294.42,80.86 294.92,80.89 295.42,80.92 295.92,80.96 296.42,80.99 296.92,81.02 297.42,81.05 297.92,81.08 298.42,81.12 298.92,81.15 299.42,81.18 299.92,81.21 300.42,81.24 300.92,81.28 301.43,81.31 301.93,81.34 302.43,81.37 302.93,81.40 303.43,81.43 303.93,81.47 304.43,81.50 304.93,81.53 305.43,81.56 305.93,81.59 306.43,81.63 306.93,81.66 307.43,81.69 307.93,81.72 308.43,81.75 308.93,81.79 309.43,81.82 309.94,81.85 310.44,81.88 310.94,81.91 311.44,81.95 311.94,81.98 312.44,82.01 312.94,82.04 313.44,82.07 313.94,82.11 314.44,82.14 314.94,82.17 315.44,82.20 315.94,82.23 316.44,82.27 316.94,82.30 317.44,82.33 317.94,82.36 318.45,82.39 318.95,82.43 319.45,82.46 319.95,82.49 320.45,82.52 320.95,82.55 321.45,82.59 321.95,82.62 322.45,82.65 322.95,82.68 323.45,82.71 323.95,82.75 324.45,82.78 324.95,82.81 325.45,82.84 325.95,82.87 326.45,82.91 326.96,82.94 327.46,82.97 327.96,83.00 328.46,83.03 328.96,83.07 329.46,83.10 329.96,83.13 330.46,83.16 330.96,83.19 331.46,83.23 331.96,83.26 332.46,83.29 332.96,83.32 333.46,83.35 333.96,83.39 334.46,83.42 334.96,83.45 335.47,83.48 335.97,83.51 336.47,83.55 336.97,83.58 337.47,83.61 337.97,83.64 338.47,83.67 338.97,83.71 339.47,83.74 339.97,83.77 340.47,83.80 340.97,83.83 341.47,83.87 341.97,83.90 342.47,83.93 342.97,83.96 343.47,83.99 343.98,84.03 344.48,84.06 344.98,84.09 345.48,84.12 345.98,84.15 346.48,84.18 346.98,84.22 347.48,84.25 347.98,84.28 348.48,84.31 348.98,84.34 349.48,84.38 349.98,84.41 350.48,84.44 350.98,84.47 351.48,84.50 351.98,84.54 352.48,84.57 352.99,84.60 353.49,84.63 353.99,84.66 354.49,84.70 354.99,84.73 355.49,84.76 355.99,84.79 356.49,84.82 356.99,84.86 357.49,84.89 357.99,84.92 358.49,84.95 358.99,84.98 359.49,85.02 359.99,85.05 360.49,85.08 360.99,85.11 361.50,85.14 362.00,85.18 362.50,85.21 363.00,85.24 363.50,85.27 364.00,85.30 364.50,85.34 365.00,85.37 365.50,85.40" fill="none" stroke="#111" stroke-width="0.9" stroke-linejoin="round"/>
<polyline points="279.40,79.90 279.90,80.06 280.40,80.21 280.90,80.37 281.40,80.52 281.90,80.68 282.40,80.83 282.90,80.98 283.40,81.13 283.91,81.28 284.41,81.43 284.91,81.58 285.41,81.73 285.91,81.87 286.41,82.02 286.91,82.16 287.41,82.31 287.91,82.45 288.41,82.60 288.91,82.74 289.41,82.88 289.91,83.02 290.41,83.16 290.91,83.30 291.41,83.44 291.91,83.58 292.42,83.72 292.92,83.85 293.42,83.99 293.92,84.12 294.42,84.26 294.92,84.39 295.42,84.53 295.92,84.66 296.42,84.79 296.92,84.92 297.42,85.05 297.92,85.18 298.42,85.31 298.92,85.44 299.42,85.57 299.92,85.70 300.42,85.83 300.92,85.95 301.43,86.08 301.93,86.21 302.43,86.33 302.93,86.46 303.43,86.58 303.93,86.70 304.43,86.83 304.93,86.95 305.43,87.07 305.93,87.19 306.43,87.31 306.93,87.43 307.43,87.55 307.93,87.67 308.43,87.79 308.93,87.91 309.43,88.03 309.94,88.14 310.44,88.26 310.94,88.38 311.44,88.49 311.94,88.61 312.44,88.73 312.94,88.84 313.44,88.95 313.94,89.07 314.44,89.18 314.94,89.29 315.44,89.41 315.94,89.52 316.44,89.63 316.94,89.74 317.44,89.85 317.94,89.96 318.45,90.07 318.95,90.18 319.45,90.29 319.95,90.40 320.45,90.51 320.95,90.62 321.45,90.72 321.95,90.83 322.45,90.94 322.95,91.04 323.45,91.15 323.95,91.26 324.45,91.36 324.95,91.47 325.45,91.57 325.95,91.68 326.45,91.78 326.96,91.88 327.46,91.99 327.96,92.09 328.46,92.19 328.96,92.30 329.46,92.40 329.96,92.50 330.46,92.60 330.96,92.70 331.46,92.80 331.96,92.90 332.46,93.00 332.96,93.10 333.46,93.20 333.96,93.30 334.46,93.40 334.96,93.50 335.47,93.60 335.97,93.70 336.47,93.80 336.97,93.89 337.47,93.99 337.97,94.09 338.47,94.18 338.97,94.28 339.47,94.38 339.97,94.47 340.47,94.57 340.97,94.67 341.47,94.76 341.97,94.86 342.47,94.95 342.97,95.04 343.47,95.14 343.98,95.23 344.48,95.33 344.98,95.42 345.48,95.51 345.98,95.61 346.48,95.70 346.98,95.79 347.48,95.89 347.98,95.98 348.48,96.07 348.98,96.16 349.48,96.25 349.98,96.34 350.48,96.44 350.98,96.53 351.48,96.62 351.98,96.71 352.48,96.80 352.99,96.89 353.49,96.98 353.99,97.07 354.49,97.16 354.99,97.25 355.49,97.34 355.99,97.42 356.49,97.51 356.99,97.60 357.49,97.69 357.99,97.78 358.49,97.87 358.99,97.96 359.49,98.04 359.99,98.13 360.49,98.22 360.99,98.31 361.50,98.39 362.00,98.48 362.50,98.57 363.00,98.65 363.50,98.74 364.00,98.83 364.50,98.91 365.00,99.00 365.50,99.08" fill="none" stroke="#111" stroke-width="0.9" stroke-linejoin="round"/>
<polyline points="279.40,79.90 279.90,80.02 280.40,80.15 280.90,80.30 281.40,80.48 281.90,80.70 282.40,80.95 282.90,81.23 283.40,81.56 283.91,81.91 284.41,82.30 284.91,82.72 285.41,83.16 285.91,83.63 286.41,84.11 286.91,84.62 287.41,85.14 287.91,85.67 288.41,86.21 288.91,86.76 289.41,87.31 289.91,87.87 290.41,88.42 290.91,88.98 291.41,89.53 291.91,90.08 292.42,90.62 292.92,91.16 293.42,91.68 293.92,92.21 294.42,92.72 294.92,93.22 295.42,93.71 295.92,94.20 296.42,94.67 296.92,95.13 297.42,95.58 297.92,96.02 298.42,96.45 298.92,96.87 299.42,97.28 299.92,97.68 300.42,98.07 300.92,98.44 301.43,98.81 301.93,99.17 302.43,99.51 302.93,99.85 303.43,100.18 303.93,100.50 304.43,100.81 304.93,101.12 305.43,101.41 305.93,101.70 306.43,101.98 306.93,102.25 307.43,102.52 307.93,102.78 308.43,103.03 308.93,103.28 309.43,103.52 309.94,103.75 310.44,103.98 310.94,104.20 311.44,104.42 311.94,104.64 312.44,104.85 312.94,105.05 313.44,105.25 313.94,105.45 314.44,105.64 314.94,105.83 315.44,106.01 315.94,106.19 316.44,106.37 316.94,106.55 317.44,106.72 317.94,106.89 318.45,107.06 318.95,107.22 319.45,107.38 319.95,107.54 320.45,107.70 320.95,107.85 321.45,108.01 321.95,108.16 322.45,108.31 322.95,108.46 323.45,108.60 323.95,108.75 324.45,108.89 324.95,109.03 325.45,109.17 325.95,109.31 326.45,109.45 326.96,109.58 327.46,109.72 327.96,109.85 328.46,109.99 328.96,110.12 329.46,110.25 329.96,110.38 330.46,110.51 330.96,110.64 331.46,110.77 331.96,110.90 332.46,111.02 332.96,111.15 333.46,111.27 333.96,111.40 334.46,111.52 334.96,111.65 335.47,111.77 335.97,111.89 336.47,112.02 336.97,112.14 337.47,112.26 337.97,112.38 338.47,112.50 338.97,112.62 339.47,112.74 339.97,112.86 340.47,112.98 340.97,113.10 341.47,113.22 341.97,113.34 342.47,113.46 342.97,113.58 343.47,113.69 343.98,113.81 344.48,113.93 344.98,114.05 345.48,114.16 345.98,114.28 346.48,114.40 346.98,114.51 347.48,114.63 347.98,114.75 348.48,114.86 348.98,114.98 349.48,115.10 349.98,115.21 350.48,115.33 350.98,115.44 351.48,115.56 351.98,115.68 352.48,115.79 352.99,115.91 353.49,116.02 353.99,116.14 354.49,116.25 354.99,116.37 355.49,116.48 355.99,116.60 356.49,116.71 356.99,116.83 357.49,116.94 357.99,117.06 358.49,117.17 358.99,117.29 359.49,117.40 359.99,117.52 360.49,117.63 360.99,117.74 361.50,117.86 362.00,117.97 362.50,118.09 363.00,118.20 363.50,118.32 364.00,118.43 364.50,118.55 365.00,118.66 365.50,118.77" fill="none" stroke="#111" stroke-width="0.9" stroke-linejoin="round"/>
<polyline points="279.40,79.90 279.90,80.58 280.40,81.68 280.90,82.99 281.40,84.43 281.90,85.93 282.40,87.48 282.90,89.04 283.40,90.60 283.91,92.14 284.41,93.65 284.91,95.13 285.41,96.58 285.91,97.97 286.41,99.34 286.91,100.65 287.41,101.92 287.91,103.14 288.41,104.33 288.91,105.45 289.41,106.52 289.91,107.54 290.41,108.53 290.91,109.42 291.41,110.33 291.91,111.20 292.42,112.07 292.92,112.81 293.42,113.61 293.92,114.31 294.42,114.92 294.92,115.54 295.42,116.17 295.92,116.82 296.42,117.34 296.92,117.88 297.42,118.40 297.92,118.93 298.42,119.30 298.92,119.69 299.42,120.07 299.92,120.34 300.42,120.65 300.92,120.96 301.43,121.37 301.93,121.69 302.43,122.07 302.93,122.39 303.43,122.67 303.93,123.01 304.43,123.38 304.93,123.58 305.43,123.75 305.93,124.06 306.43,124.12 306.93,124.27 307.43,124.55 307.93,124.61 308.43,125.00 308.93,125.32 309.43,125.65 309.94,125.99 310.44,126.38 310.94,126.32 311.44,126.38 311.94,126.46 312.44,126.52 312.94,126.51 313.44,126.80 313.94,126.91 314.44,126.87 314.94,126.97 315.44,127.12 315.94,127.12 316.44,127.12 316.94,127.40 317.44,127.32 317.94,127.59 318.45,127.44 318.95,127.60 319.45,127.51 319.95,127.67 320.45,127.51 320.95,127.73 321.45,127.88 321.95,128.02 322.45,128.08 322.95,128.30 323.45,128.23 323.95,128.43 324.45,128.42 324.95,128.38 325.45,128.62 325.95,128.79 326.45,128.72 326.96,129.00 327.46,129.08 327.96,128.93 328.46,129.04 328.96,129.10 329.46,128.94 329.96,129.20 330.46,129.28 330.96,129.45 331.46,129.54 331.96,129.67 332.46,129.74 332.96,129.71 333.46,129.81 333.96,129.78 334.46,129.82 334.96,129.75 335.47,130.19 335.97,130.24 336.47,130.41 336.97,130.62 337.47,130.81 337.97,130.51 338.47,130.20 338.97,130.11 339.47,130.10 339.97,129.91 340.47,129.99 340.97,130.48 341.47,130.64 341.97,130.62 342.47,130.78 342.97,131.03 343.47,131.12 343.98,131.31 344.48,131.41 344.98,131.40 345.48,131.13 345.98,130.87 346.48,130.95 346.98,131.13 347.48,131.29 347.98,131.36 348.48,131.48 348.98,131.31 349.48,131.49 349.98,131.50 350.48,131.69 350.98,131.75 351.48,131.90 351.98,131.75 352.48,131.72 352.99,131.83 353.49,131.89 353.99,132.07 354.49,132.19 354.99,132.43 355.49,132.37 355.99,132.41 356.49,132.00 356.99,131.84 357.49,131.73 357.99,131.49 358.49,131.72 358.99,132.25 359.49,132.46 359.99,132.94 360.49,133.12 360.99,133.01 361.50,132.93 362.00,132.88 362.50,132.80 363.00,133.27 363.50,133.39 364.00,133.28 364.50,133.45 365.00,133.30 365.50,133.12" fill="none" stroke="#111" stroke-width="0.9" stroke-linejoin="round"/>
<polyline points="279.40,79.90 279.90,80.35 280.40,81.77 280.90,84.01 281.40,86.87 281.90,90.13 282.40,93.61 282.90,97.18 283.40,100.74 283.91,104.21 284.41,107.53 284.91,110.75 285.41,113.72 285.91,116.52 286.41,119.10 286.91,121.47 287.41,123.56 287.91,125.26 288.41,127.18 288.91,128.65 289.41,130.05 289.91,131.34 290.41,132.89 290.91,133.74 291.41,135.19 291.91,136.05 292.42,136.59 292.92,136.99 293.42,137.88 293.92,137.80 294.42,138.37 294.92,138.86 295.42,138.96 295.92,138.70 296.42,139.62 296.92,138.94 297.42,139.58 297.92,140.62 298.42,140.95 298.92,140.89 299.42,141.87 299.92,142.01 300.42,141.48 300.92,141.57 301.43,141.89 301.93,141.52 302.43,141.43 302.93,141.80 303.43,142.27 303.93,141.88 304.43,142.39 304.93,142.47 305.43,142.55 305.93,142.01 306.43,142.77 306.93,142.80 307.43,142.76 307.93,142.80 308.43,143.39 308.93,143.09 309.43,142.94 309.94,143.19 310.44,143.18 310.94,143.02 311.44,143.09 311.94,142.96 312.44,142.74 312.94,142.89 313.44,142.42 313.94,142.28 314.44,142.66 314.94,142.87 315.44,142.70 315.94,143.20 316.44,143.52 316.94,143.17 317.44,142.73 317.94,142.75 318.45,142.98 318.95,143.24 319.45,143.69 319.95,143.92 320.45,143.88 320.95,143.70 321.45,143.82 321.95,143.77 322.45,143.65 322.95,144.35 323.45,144.30 323.95,143.71 324.45,143.49 324.95,144.03 325.45,143.45 325.95,142.90 326.45,142.27 326.96,142.67 327.46,142.16 327.96,142.41 328.46,143.21 328.96,144.45 329.46,144.83 329.96,144.66 330.46,144.43 330.96,144.01 331.46,143.81 331.96,142.86 332.46,143.45 332.96,142.99 333.46,143.61 333.96,143.73 334.46,143.69 334.96,143.49 335.47,143.89 335.97,143.00 336.47,142.93 336.97,143.24 337.47,143.60 337.97,143.98 338.47,145.18 338.97,144.73 339.47,145.30 339.97,145.04 340.47,144.77 340.97,144.53 341.47,144.72 341.97,144.30 342.47,144.32 342.97,144.01 343.47,144.04 343.98,144.62 344.48,144.28 344.98,144.27 345.48,144.62 345.98,144.02 346.48,143.74 346.98,144.87 347.48,144.96 347.98,145.00 348.48,145.87 348.98,145.48 349.48,144.66 349.98,144.36 350.48,144.81 350.98,144.25 351.48,144.44 351.98,144.48 352.48,144.83 352.99,144.51 353.49,145.12 353.99,145.07 354.49,144.95 354.99,145.44 355.49,145.57 355.99,144.96 356.49,145.15 356.99,145.55 357.49,144.21 357.99,144.11 358.49,144.59 358.99,144.77 359.49,144.50 359.99,145.17 360.49,145.37 360.99,145.68 361.50,145.50 362.00,145.89 362.50,145.82 363.00,145.52 363.50,144.61 364.00,144.49 364.50,144.08 365.00,144.13 365.50,144.10" fill="none" stroke="#111" stroke-width="1.1" stroke-linejoin="round"/>
<path d="M365.5,81.5 Q378,80.5 394,79.5" fill="none" stroke="#666" stroke-width="0.9"/>
<path d="M365.5,82.5 Q378,81.5 394,79.5" fill="none" stroke="#666" stroke-width="0.9"/>
<path d="M365.5,84.8 Q378,83.2 394,79.5" fill="none" stroke="#666" stroke-width="0.9"/>
<line x1="365.5" y1="79.2" x2="394.4" y2="79.2" stroke="#999" stroke-width="1.4"/>
<line x1="365.5" y1="79.2" x2="365.5" y2="145.5" stroke="#888" stroke-width="0.9"/>
<path d="M387,79.1 L394.4,78.3 Q395.2,79.5 394.4,80.7 L387,79.9 Z" fill="#000"/>
<path d="M354.9,112.0 L358.9,104.80000000000001 L362.9,112.0 Z" fill="#000"/>
<path d="M272.9,139.2 V146.3 H282.8" fill="none" stroke="#555" stroke-width="1"/>
<text x="49" y="66" font-size="15" text-anchor="start" font-weight="normal" >wt</text>
<circle cx="97.9" cy="60.3" r="4.1" fill="#000"/>
<text x="166.5" y="66" font-size="15" text-anchor="start" font-weight="normal" >wt / KN</text>
<circle cx="233.6" cy="60.3" r="3.1" fill="none" stroke="#000" stroke-width="2.3"/>
<text x="297.5" y="57" font-size="15" text-anchor="start" font-weight="normal" >wt / KN</text>
<text x="303" y="74.6" font-size="15" text-anchor="start" font-weight="normal" >+NB5</text>
<circle cx="364.2" cy="60.2" r="3.1" fill="none" stroke="#0c9cfb" stroke-width="2.2"/>
<path d="M487,23.9 V182.9 H685" fill="none" stroke="#555" stroke-width="1.4"/>
<line x1="483.6" y1="28.69999999999999" x2="487" y2="28.69999999999999" stroke="#333" stroke-width="1.2"/>
<text x="481.6" y="33.79999999999999" font-size="16" text-anchor="end" font-weight="normal" >1.0</text>
<line x1="483.6" y1="103.69999999999999" x2="487" y2="103.69999999999999" stroke="#333" stroke-width="1.2"/>
<text x="481.6" y="108.79999999999998" font-size="16" text-anchor="end" font-weight="normal" >0.5</text>
<line x1="483.6" y1="178.7" x2="487" y2="178.7" stroke="#333" stroke-width="1.2"/>
<text x="481.6" y="183.79999999999998" font-size="16" text-anchor="end" font-weight="normal" >0.0</text>
<line x1="490.5" y1="182.9" x2="490.5" y2="186.5" stroke="#333" stroke-width="1.2"/>
<text x="490.5" y="200.7" font-size="16" text-anchor="middle" font-weight="normal" >-150</text>
<line x1="578.65" y1="182.9" x2="578.65" y2="186.5" stroke="#333" stroke-width="1.2"/>
<text x="578.65" y="200.7" font-size="16" text-anchor="middle" font-weight="normal" >-100</text>
<line x1="666.8" y1="182.9" x2="666.8" y2="186.5" stroke="#333" stroke-width="1.2"/>
<text x="666.8" y="200.7" font-size="16" text-anchor="middle" font-weight="normal" >-50</text>
<text x="585.6" y="214.8" font-size="16" text-anchor="middle" font-weight="normal" >V(mV)</text>
<text transform="translate(447.5,132.5) rotate(-90)" font-size="16">G/G<tspan dy="7.9" font-size="15">max</tspan></text>
<circle cx="490.50" cy="28.70" r="2.9" fill="#fff" stroke="#000" stroke-width="1.9"/>
<path d="M516.95,37.00 V44.40" stroke="#000" stroke-width="1.2" fill="none"/>
<path d="M512.75,37.00 h8.4 M512.75,44.40 h8.4" stroke="#000" stroke-width="1.8" fill="none"/>
<circle cx="516.95" cy="40.70" r="2.9" fill="#fff" stroke="#000" stroke-width="1.9"/>
<path d="M543.39,70.90 V78.30" stroke="#000" stroke-width="1.2" fill="none"/>
<path d="M539.19,70.90 h8.4 M539.19,78.30 h8.4" stroke="#000" stroke-width="1.8" fill="none"/>
<circle cx="543.39" cy="74.60" r="2.9" fill="#fff" stroke="#000" stroke-width="1.9"/>
<path d="M569.84,122.80 V130.20" stroke="#000" stroke-width="1.2" fill="none"/>
<path d="M565.63,122.80 h8.4 M565.63,130.20 h8.4" stroke="#000" stroke-width="1.8" fill="none"/>
<circle cx="569.84" cy="126.50" r="2.9" fill="#fff" stroke="#000" stroke-width="1.9"/>
<path d="M596.28,157.90 V165.30" stroke="#000" stroke-width="1.2" fill="none"/>
<path d="M592.08,157.90 h8.4 M592.08,165.30 h8.4" stroke="#000" stroke-width="1.8" fill="none"/>
<circle cx="596.28" cy="161.60" r="2.9" fill="#fff" stroke="#000" stroke-width="1.9"/>
<path d="M622.73,174.20 V177.20" stroke="#000" stroke-width="1.2" fill="none"/>
<path d="M620.73,174.20 h4.0 M620.73,177.20 h4.0" stroke="#000" stroke-width="1.8" fill="none"/>
<circle cx="622.73" cy="175.70" r="2.9" fill="#fff" stroke="#000" stroke-width="1.9"/>
<path d="M649.17,176.45 V179.45" stroke="#000" stroke-width="1.2" fill="none"/>
<path d="M647.17,176.45 h4.0 M647.17,179.45 h4.0" stroke="#000" stroke-width="1.8" fill="none"/>
<circle cx="649.17" cy="177.95" r="2.9" fill="#fff" stroke="#000" stroke-width="1.9"/>
<circle cx="490.50" cy="28.70" r="3.9" fill="#000"/>
<path d="M516.95,30.20 V36.20" stroke="#000" stroke-width="1.2" fill="none"/>
<path d="M514.45,30.20 h5.0 M514.45,36.20 h5.0" stroke="#000" stroke-width="1.8" fill="none"/>
<circle cx="516.95" cy="33.20" r="3.9" fill="#000"/>
<path d="M543.39,45.25 V52.65" stroke="#000" stroke-width="1.2" fill="none"/>
<path d="M539.19,45.25 h8.4 M539.19,52.65 h8.4" stroke="#000" stroke-width="1.8" fill="none"/>
<circle cx="543.39" cy="48.95" r="3.9" fill="#000"/>
<path d="M569.84,89.65 V98.85" stroke="#000" stroke-width="1.2" fill="none"/>
<path d="M565.63,89.65 h8.4 M565.63,98.85 h8.4" stroke="#000" stroke-width="1.8" fill="none"/>
<circle cx="569.84" cy="94.25" r="3.9" fill="#000"/>
<path d="M596.28,137.70 V144.70" stroke="#000" stroke-width="1.2" fill="none"/>
<path d="M592.08,137.70 h8.4 M592.08,144.70 h8.4" stroke="#000" stroke-width="1.8" fill="none"/>
<circle cx="596.28" cy="141.20" r="3.9" fill="#000"/>
<path d="M622.73,174.15 V178.15" stroke="#000" stroke-width="1.2" fill="none"/>
<path d="M620.23,174.15 h5.0 M620.23,178.15 h5.0" stroke="#000" stroke-width="1.8" fill="none"/>
<circle cx="622.73" cy="176.15" r="3.9" fill="#000"/>
<path d="M649.17,176.25 V180.25" stroke="#000" stroke-width="1.2" fill="none"/>
<path d="M646.67,176.25 h5.0 M646.67,180.25 h5.0" stroke="#000" stroke-width="1.8" fill="none"/>
<circle cx="649.17" cy="178.25" r="3.9" fill="#000"/>
<polyline points="490.50,31.47 491.38,31.61 492.26,31.76 493.14,31.92 494.03,32.08 494.91,32.25 495.79,32.44 496.67,32.63 497.55,32.83 498.43,33.04 499.31,33.26 500.20,33.49 501.08,33.73 501.96,33.98 502.84,34.25 503.72,34.53 504.60,34.82 505.49,35.13 506.37,35.45 507.25,35.79 508.13,36.14 509.01,36.51 509.89,36.89 510.77,37.30 511.66,37.72 512.54,38.16 513.42,38.62 514.30,39.11 515.18,39.61 516.06,40.14 516.95,40.69 517.83,41.27 518.71,41.87 519.59,42.49 520.47,43.14 521.35,43.82 522.23,44.53 523.12,45.27 524.00,46.03 524.88,46.83 525.76,47.66 526.64,48.52 527.52,49.41 528.40,50.34 529.29,51.30 530.17,52.30 531.05,53.33 531.93,54.40 532.81,55.50 533.69,56.64 534.58,57.82 535.46,59.04 536.34,60.29 537.22,61.58 538.10,62.90 538.98,64.27 539.86,65.67 540.75,67.11 541.63,68.58 542.51,70.09 543.39,71.63 544.27,73.21 545.15,74.82 546.03,76.46 546.92,78.14 547.80,79.84 548.68,81.57 549.56,83.32 550.44,85.10 551.32,86.91 552.21,88.73 553.09,90.57 553.97,92.43 554.85,94.30 555.73,96.18 556.61,98.07 557.49,99.97 558.38,101.88 559.26,103.78 560.14,105.69 561.02,107.59 561.90,109.48 562.78,111.37 563.66,113.25 564.55,115.12 565.43,116.97 566.31,118.80 567.19,120.62 568.07,122.41 568.95,124.18 569.84,125.93 570.72,127.64 571.60,129.34 572.48,131.00 573.36,132.63 574.24,134.22 575.12,135.79 576.01,137.32 576.89,138.81 577.77,140.27 578.65,141.70 579.53,143.08 580.41,144.43 581.29,145.74 582.18,147.02 583.06,148.25 583.94,149.45 584.82,150.62 585.70,151.74 586.58,152.83 587.47,153.89 588.35,154.90 589.23,155.89 590.11,156.83 590.99,157.75 591.87,158.63 592.75,159.48 593.64,160.29 594.52,161.08 595.40,161.83 596.28,162.56 597.16,163.25 598.04,163.92 598.92,164.56 599.81,165.18 600.69,165.77 601.57,166.33 602.45,166.87 603.33,167.39 604.21,167.89 605.10,168.36 605.98,168.82 606.86,169.25 607.74,169.67 608.62,170.06 609.50,170.44 610.38,170.81 611.27,171.15 612.15,171.48 613.03,171.80 613.91,172.10 614.79,172.38 615.67,172.66 616.55,172.92 617.44,173.17 618.32,173.41 619.20,173.63 620.08,173.85 620.96,174.05 621.84,174.25 622.73,174.44 623.61,174.62 624.49,174.78 625.37,174.95 626.25,175.10 627.13,175.25 628.01,175.39 628.90,175.52 629.78,175.64 630.66,175.76 631.54,175.88 632.42,175.99 633.30,176.09 634.18,176.19 635.07,176.28 635.95,176.37 636.83,176.46 637.71,176.54 638.59,176.62 639.47,176.69 640.36,176.76 641.24,176.82 642.12,176.89 643.00,176.95 643.88,177.00 644.76,177.06 645.64,177.11 646.53,177.16 647.41,177.21 648.29,177.25 649.17,177.29 650.05,177.33 650.93,177.37 651.81,177.41 652.70,177.44 653.58,177.47 654.46,177.50 655.34,177.53 656.22,177.56 657.10,177.59 657.99,177.61 658.87,177.64 659.75,177.66 660.63,177.68 661.51,177.70 662.39,177.72 663.27,177.74 664.16,177.76 665.04,177.78 665.92,177.79 666.80,177.81 667.68,177.82 668.56,177.84 669.44,177.85 670.33,177.86 671.21,177.87 672.09,177.88 672.97,177.90 673.85,177.91 674.73,177.92 675.62,177.92 676.50,177.93 677.38,177.94 678.26,177.95 679.14,177.96 680.02,177.96 680.90,177.97 681.79,177.98 682.67,177.98 683.55,177.99 684.43,177.99 685.31,178.00" fill="none" stroke="#000" stroke-width="2.4"/>
<polyline points="490.50,29.80 491.38,29.86 492.26,29.92 493.14,29.99 494.03,30.05 494.91,30.12 495.79,30.20 496.67,30.27 497.55,30.35 498.43,30.44 499.31,30.53 500.20,30.62 501.08,30.72 501.96,30.83 502.84,30.94 503.72,31.05 504.60,31.18 505.49,31.30 506.37,31.44 507.25,31.58 508.13,31.72 509.01,31.88 509.89,32.04 510.77,32.21 511.66,32.39 512.54,32.58 513.42,32.78 514.30,32.98 515.18,33.20 516.06,33.43 516.95,33.67 517.83,33.92 518.71,34.18 519.59,34.46 520.47,34.75 521.35,35.05 522.23,35.37 523.12,35.70 524.00,36.05 524.88,36.42 525.76,36.80 526.64,37.20 527.52,37.62 528.40,38.05 529.29,38.51 530.17,38.99 531.05,39.49 531.93,40.01 532.81,40.56 533.69,41.12 534.58,41.72 535.46,42.34 536.34,42.98 537.22,43.65 538.10,44.36 538.98,45.09 539.86,45.84 540.75,46.63 541.63,47.45 542.51,48.31 543.39,49.19 544.27,50.11 545.15,51.06 546.03,52.05 546.92,53.07 547.80,54.13 548.68,55.23 549.56,56.36 550.44,57.52 551.32,58.73 552.21,59.97 553.09,61.25 553.97,62.57 554.85,63.92 555.73,65.31 556.61,66.74 557.49,68.20 558.38,69.70 559.26,71.24 560.14,72.80 561.02,74.41 561.90,76.04 562.78,77.70 563.66,79.39 564.55,81.12 565.43,82.86 566.31,84.63 567.19,86.43 568.07,88.24 568.95,90.08 569.84,91.93 570.72,93.79 571.60,95.67 572.48,97.56 573.36,99.45 574.24,101.35 575.12,103.25 576.01,105.15 576.89,107.05 577.77,108.94 578.65,110.83 579.53,112.71 580.41,114.57 581.29,116.42 582.18,118.26 583.06,120.07 583.94,121.87 584.82,123.64 585.70,125.38 586.58,127.11 587.47,128.80 588.35,130.46 589.23,132.09 590.11,133.70 590.99,135.26 591.87,136.80 592.75,138.30 593.64,139.76 594.52,141.19 595.40,142.58 596.28,143.93 597.16,145.25 598.04,146.53 598.92,147.77 599.81,148.98 600.69,150.14 601.57,151.27 602.45,152.37 603.33,153.43 604.21,154.45 605.10,155.44 605.98,156.39 606.86,157.31 607.74,158.19 608.62,159.05 609.50,159.87 610.38,160.66 611.27,161.41 612.15,162.14 613.03,162.85 613.91,163.52 614.79,164.16 615.67,164.78 616.55,165.38 617.44,165.94 618.32,166.49 619.20,167.01 620.08,167.51 620.96,167.99 621.84,168.45 622.73,168.88 623.61,169.30 624.49,169.70 625.37,170.08 626.25,170.45 627.13,170.80 628.01,171.13 628.90,171.45 629.78,171.75 630.66,172.04 631.54,172.32 632.42,172.58 633.30,172.83 634.18,173.07 635.07,173.30 635.95,173.52 636.83,173.72 637.71,173.92 638.59,174.11 639.47,174.29 640.36,174.46 641.24,174.62 642.12,174.78 643.00,174.92 643.88,175.06 644.76,175.20 645.64,175.32 646.53,175.45 647.41,175.56 648.29,175.67 649.17,175.78 650.05,175.88 650.93,175.97 651.81,176.06 652.70,176.15 653.58,176.23 654.46,176.30 655.34,176.38 656.22,176.45 657.10,176.51 657.99,176.58 658.87,176.64 659.75,176.70 660.63,176.75 661.51,176.80 662.39,176.85 663.27,176.90 664.16,176.94 665.04,176.99 665.92,177.03 666.80,177.06 667.68,177.10 668.56,177.14 669.44,177.17 670.33,177.20 671.21,177.23 672.09,177.26 672.97,177.28 673.85,177.31 674.73,177.33 675.62,177.36 676.50,177.38 677.38,177.40 678.26,177.42 679.14,177.44 680.02,177.46 680.90,177.47 681.79,177.49 682.67,177.51 683.55,177.52 684.43,177.53 685.31,177.55" fill="none" stroke="#000" stroke-width="2.4"/>
<circle cx="490.50" cy="28.70" r="2.9" fill="#fff" stroke="#0c9cfb" stroke-width="2"/>
<path d="M516.95,28.35 V33.55" stroke="#0c9cfb" stroke-width="1.2" fill="none"/>
<path d="M512.75,28.35 h8.4 M512.75,33.55 h8.4" stroke="#0c9cfb" stroke-width="1.8" fill="none"/>
<circle cx="516.95" cy="30.95" r="2.9" fill="#fff" stroke="#0c9cfb" stroke-width="2"/>
<path d="M543.39,43.15 V50.55" stroke="#0c9cfb" stroke-width="1.2" fill="none"/>
<path d="M539.19,43.15 h8.4 M539.19,50.55 h8.4" stroke="#0c9cfb" stroke-width="1.8" fill="none"/>
<circle cx="543.39" cy="46.85" r="2.9" fill="#fff" stroke="#0c9cfb" stroke-width="2"/>
<path d="M569.84,83.60 V92.00" stroke="#0c9cfb" stroke-width="1.2" fill="none"/>
<path d="M565.63,83.60 h8.4 M565.63,92.00 h8.4" stroke="#0c9cfb" stroke-width="1.8" fill="none"/>
<circle cx="569.84" cy="87.80" r="2.9" fill="#fff" stroke="#0c9cfb" stroke-width="2"/>
<path d="M596.28,134.45 V142.85" stroke="#0c9cfb" stroke-width="1.2" fill="none"/>
<path d="M592.08,134.45 h8.4 M592.08,142.85 h8.4" stroke="#0c9cfb" stroke-width="1.8" fill="none"/>
<circle cx="596.28" cy="138.65" r="2.9" fill="#fff" stroke="#0c9cfb" stroke-width="2"/>
<path d="M622.73,161.20 V168.60" stroke="#0c9cfb" stroke-width="1.2" fill="none"/>
<path d="M618.52,161.20 h8.4 M618.52,168.60 h8.4" stroke="#0c9cfb" stroke-width="1.8" fill="none"/>
<circle cx="622.73" cy="164.90" r="2.9" fill="#fff" stroke="#0c9cfb" stroke-width="2"/>
<path d="M649.17,169.10 V175.10" stroke="#0c9cfb" stroke-width="1.2" fill="none"/>
<path d="M644.97,169.10 h8.4 M644.97,175.10 h8.4" stroke="#0c9cfb" stroke-width="1.8" fill="none"/>
<circle cx="649.17" cy="172.10" r="2.9" fill="#fff" stroke="#0c9cfb" stroke-width="2"/>
<path d="M675.62,173.70 V177.70" stroke="#0c9cfb" stroke-width="1.2" fill="none"/>
<path d="M673.12,173.70 h5.0 M673.12,177.70 h5.0" stroke="#0c9cfb" stroke-width="1.8" fill="none"/>
<circle cx="675.62" cy="175.70" r="2.9" fill="#fff" stroke="#0c9cfb" stroke-width="2"/>
<polyline points="490.50,29.67 491.38,29.72 492.26,29.77 493.14,29.82 494.03,29.88 494.91,29.94 495.79,30.01 496.67,30.08 497.55,30.15 498.43,30.22 499.31,30.30 500.20,30.39 501.08,30.47 501.96,30.56 502.84,30.66 503.72,30.76 504.60,30.87 505.49,30.98 506.37,31.10 507.25,31.22 508.13,31.35 509.01,31.49 509.89,31.63 510.77,31.78 511.66,31.94 512.54,32.10 513.42,32.28 514.30,32.46 515.18,32.65 516.06,32.85 516.95,33.06 517.83,33.28 518.71,33.51 519.59,33.76 520.47,34.01 521.35,34.28 522.23,34.56 523.12,34.85 524.00,35.16 524.88,35.48 525.76,35.82 526.64,36.18 527.52,36.55 528.40,36.94 529.29,37.34 530.17,37.77 531.05,38.21 531.93,38.67 532.81,39.16 533.69,39.66 534.58,40.19 535.46,40.75 536.34,41.32 537.22,41.92 538.10,42.55 538.98,43.21 539.86,43.89 540.75,44.60 541.63,45.33 542.51,46.10 543.39,46.90 544.27,47.73 545.15,48.59 546.03,49.49 546.92,50.41 547.80,51.37 548.68,52.37 549.56,53.40 550.44,54.47 551.32,55.57 552.21,56.71 553.09,57.89 553.97,59.10 554.85,60.35 555.73,61.63 556.61,62.96 557.49,64.32 558.38,65.71 559.26,67.14 560.14,68.61 561.02,70.11 561.90,71.65 562.78,73.22 563.66,74.82 564.55,76.45 565.43,78.11 566.31,79.80 567.19,81.52 568.07,83.26 568.95,85.02 569.84,86.81 570.72,88.61 571.60,90.43 572.48,92.27 573.36,94.12 574.24,95.98 575.12,97.85 576.01,99.72 576.89,101.60 577.77,103.48 578.65,105.35 579.53,107.23 580.41,109.09 581.29,110.95 582.18,112.80 583.06,114.63 583.94,116.45 584.82,118.25 585.70,120.03 586.58,121.79 587.47,123.53 588.35,125.24 589.23,126.92 590.11,128.58 590.99,130.20 591.87,131.80 592.75,133.36 593.64,134.89 594.52,136.38 595.40,137.84 596.28,139.27 597.16,140.66 598.04,142.01 598.92,143.33 599.81,144.61 600.69,145.85 601.57,147.05 602.45,148.22 603.33,149.35 604.21,150.45 605.10,151.51 605.98,152.53 606.86,153.52 607.74,154.48 608.62,155.40 609.50,156.28 610.38,157.14 611.27,157.96 612.15,158.75 613.03,159.52 613.91,160.25 614.79,160.95 615.67,161.63 616.55,162.28 617.44,162.90 618.32,163.49 619.20,164.07 620.08,164.61 620.96,165.14 621.84,165.64 622.73,166.12 623.61,166.58 624.49,167.02 625.37,167.44 626.25,167.84 627.13,168.23 628.01,168.60 628.90,168.95 629.78,169.28 630.66,169.60 631.54,169.91 632.42,170.20 633.30,170.47 634.18,170.74 635.07,170.99 635.95,171.23 636.83,171.46 637.71,171.68 638.59,171.89 639.47,172.09 640.36,172.28 641.24,172.46 642.12,172.63 643.00,172.80 643.88,172.95 644.76,173.10 645.64,173.24 646.53,173.38 647.41,173.51 648.29,173.63 649.17,173.74 650.05,173.85 650.93,173.96 651.81,174.06 652.70,174.15 653.58,174.25 654.46,174.33 655.34,174.41 656.22,174.49 657.10,174.57 657.99,174.64 658.87,174.70 659.75,174.77 660.63,174.83 661.51,174.89 662.39,174.94 663.27,174.99 664.16,175.04 665.04,175.09 665.92,175.14 666.80,175.18 667.68,175.22 668.56,175.26 669.44,175.29 670.33,175.33 671.21,175.36 672.09,175.39 672.97,175.42 673.85,175.45 674.73,175.48 675.62,175.51 676.50,175.53 677.38,175.55 678.26,175.58 679.14,175.60 680.02,175.62 680.90,175.64 681.79,175.65 682.67,175.67 683.55,175.69 684.43,175.70 685.31,175.72" fill="none" stroke="#0c9cfb" stroke-width="2.6"/>
<path d="M119,255 V413.4 H316.4" fill="none" stroke="#555" stroke-width="1.4"/>
<line x1="115.4" y1="366.3" x2="119" y2="366.3" stroke="#333" stroke-width="1.2"/>
<text x="113.8" y="371.40000000000003" font-size="16" text-anchor="end" font-weight="normal" >2</text>
<line x1="115.4" y1="316.9" x2="119" y2="316.9" stroke="#333" stroke-width="1.2"/>
<text x="113.8" y="322.0" font-size="16" text-anchor="end" font-weight="normal" >4</text>
<line x1="115.4" y1="267.5" x2="119" y2="267.5" stroke="#333" stroke-width="1.2"/>
<text x="113.8" y="272.6" font-size="16" text-anchor="end" font-weight="normal" >6</text>
<line x1="123.5" y1="413.4" x2="123.5" y2="416.9" stroke="#333" stroke-width="1.2"/>
<text x="123.5" y="431.3" font-size="16" text-anchor="middle" font-weight="normal" >-150</text>
<line x1="170.51" y1="413.4" x2="170.51" y2="416.9" stroke="#333" stroke-width="1.2"/>
<text x="170.51" y="431.3" font-size="16" text-anchor="middle" font-weight="normal" >-120</text>
<line x1="217.51999999999998" y1="413.4" x2="217.51999999999998" y2="416.9" stroke="#333" stroke-width="1.2"/>
<text x="217.51999999999998" y="431.3" font-size="16" text-anchor="middle" font-weight="normal" >-90</text>
<line x1="264.53" y1="413.4" x2="264.53" y2="416.9" stroke="#333" stroke-width="1.2"/>
<text x="264.53" y="431.3" font-size="16" text-anchor="middle" font-weight="normal" >-60</text>
<line x1="311.53999999999996" y1="413.4" x2="311.53999999999996" y2="416.9" stroke="#333" stroke-width="1.2"/>
<text x="311.53999999999996" y="431.3" font-size="16" text-anchor="middle" font-weight="normal" >-30</text>
<text x="207.5" y="452.3" font-size="15.5" text-anchor="middle" font-weight="normal" >V(mV)</text>
<text transform="translate(91.3,334.2) rotate(-90)" font-size="15.5" text-anchor="middle"><tspan font-family="Liberation Serif, serif" font-style="italic">τ</tspan> (s)</text>
<circle cx="123.50" cy="403.10" r="4.15" fill="#000"/>
<path d="M123.50,401.87 V404.34" stroke="#000" stroke-width="1.3" fill="none"/>
<path d="M120.20,401.87 h6.6 M120.20,404.34 h6.6" stroke="#000" stroke-width="1.6" fill="none"/>
<circle cx="147.00" cy="392.73" r="4.15" fill="#000"/>
<path d="M147.00,391.25 V394.21" stroke="#000" stroke-width="1.3" fill="none"/>
<path d="M143.70,391.25 h6.6 M143.70,394.21 h6.6" stroke="#000" stroke-width="1.6" fill="none"/>
<circle cx="170.51" cy="366.79" r="4.15" fill="#000"/>
<path d="M170.51,360.62 V372.97" stroke="#000" stroke-width="1.3" fill="none"/>
<path d="M167.21,360.62 h6.6 M167.21,372.97 h6.6" stroke="#000" stroke-width="1.6" fill="none"/>
<circle cx="217.52" cy="337.65" r="4.15" fill="#000"/>
<path d="M217.52,323.82 V351.48" stroke="#000" stroke-width="1.3" fill="none"/>
<path d="M214.22,323.82 h6.6 M214.22,351.48 h6.6" stroke="#000" stroke-width="1.6" fill="none"/>
<circle cx="241.02" cy="367.29" r="4.15" fill="#000"/>
<path d="M241.02,361.11 V373.46" stroke="#000" stroke-width="1.3" fill="none"/>
<path d="M237.72,361.11 h6.6 M237.72,373.46 h6.6" stroke="#000" stroke-width="1.6" fill="none"/>
<circle cx="264.53" cy="385.81" r="4.15" fill="#000"/>
<path d="M264.53,383.84 V387.79" stroke="#000" stroke-width="1.3" fill="none"/>
<path d="M261.23,383.84 h6.6 M261.23,387.79 h6.6" stroke="#000" stroke-width="1.6" fill="none"/>
<circle cx="288.03" cy="399.40" r="4.15" fill="#000"/>
<path d="M288.03,397.92 V400.88" stroke="#000" stroke-width="1.3" fill="none"/>
<path d="M284.73,397.92 h6.6 M284.73,400.88 h6.6" stroke="#000" stroke-width="1.6" fill="none"/>
<circle cx="311.54" cy="406.81" r="4.15" fill="#000"/>
<path d="M311.54,405.57 V408.04" stroke="#000" stroke-width="1.3" fill="none"/>
<path d="M308.24,405.57 h6.6 M308.24,408.04 h6.6" stroke="#000" stroke-width="1.6" fill="none"/>
<circle cx="123.50" cy="396.43" r="3.2" fill="#fff" stroke="#000" stroke-width="1.8"/>
<path d="M123.50,395.20 V397.67" stroke="#000" stroke-width="1.2" fill="none"/>
<path d="M121.10,395.20 h4.8 M121.10,397.67 h4.8" stroke="#000" stroke-width="1.5" fill="none"/>
<circle cx="147.00" cy="379.64" r="3.2" fill="#fff" stroke="#000" stroke-width="1.8"/>
<path d="M147.00,378.16 V381.12" stroke="#000" stroke-width="1.2" fill="none"/>
<path d="M144.60,378.16 h4.8 M144.60,381.12 h4.8" stroke="#000" stroke-width="1.5" fill="none"/>
<circle cx="170.51" cy="290.47" r="3.2" fill="#fff" stroke="#000" stroke-width="1.8"/>
<path d="M170.51,269.48 V311.47" stroke="#000" stroke-width="1.2" fill="none"/>
<path d="M167.21,269.48 h6.6 M167.21,311.47 h6.6" stroke="#000" stroke-width="1.5" fill="none"/>
<circle cx="217.52" cy="327.77" r="3.2" fill="#fff" stroke="#000" stroke-width="1.8"/>
<path d="M217.52,320.98 V334.56" stroke="#000" stroke-width="1.2" fill="none"/>
<path d="M214.22,320.98 h6.6 M214.22,334.56 h6.6" stroke="#000" stroke-width="1.5" fill="none"/>
<circle cx="241.02" cy="358.89" r="3.2" fill="#fff" stroke="#000" stroke-width="1.8"/>
<path d="M241.02,354.69 V363.09" stroke="#000" stroke-width="1.2" fill="none"/>
<path d="M237.72,354.69 h6.6 M237.72,363.09 h6.6" stroke="#000" stroke-width="1.5" fill="none"/>
<circle cx="264.53" cy="378.65" r="3.2" fill="#fff" stroke="#000" stroke-width="1.8"/>
<path d="M264.53,376.67 V380.63" stroke="#000" stroke-width="1.2" fill="none"/>
<path d="M262.13,376.67 h4.8 M262.13,380.63 h4.8" stroke="#000" stroke-width="1.5" fill="none"/>
<circle cx="288.03" cy="395.20" r="3.2" fill="#fff" stroke="#000" stroke-width="1.8"/>
<path d="M288.03,393.72 V396.68" stroke="#000" stroke-width="1.2" fill="none"/>
<path d="M285.63,393.72 h4.8 M285.63,396.68 h4.8" stroke="#000" stroke-width="1.5" fill="none"/>
<circle cx="311.54" cy="404.34" r="3.2" fill="#fff" stroke="#000" stroke-width="1.8"/>
<path d="M311.54,403.10 V405.57" stroke="#000" stroke-width="1.2" fill="none"/>
<path d="M309.14,403.10 h4.8 M309.14,405.57 h4.8" stroke="#000" stroke-width="1.5" fill="none"/>
<circle cx="123.50" cy="400.14" r="3.2" fill="#fff" stroke="#0c9cfb" stroke-width="1.9"/>
<path d="M123.50,398.90 V401.37" stroke="#0c9cfb" stroke-width="1.2" fill="none"/>
<path d="M121.10,398.90 h4.8 M121.10,401.37 h4.8" stroke="#0c9cfb" stroke-width="1.5" fill="none"/>
<circle cx="147.00" cy="389.52" r="3.2" fill="#fff" stroke="#0c9cfb" stroke-width="1.9"/>
<path d="M147.00,388.04 V391.00" stroke="#0c9cfb" stroke-width="1.2" fill="none"/>
<path d="M144.60,388.04 h4.8 M144.60,391.00 h4.8" stroke="#0c9cfb" stroke-width="1.5" fill="none"/>
<circle cx="170.51" cy="365.06" r="3.2" fill="#fff" stroke="#0c9cfb" stroke-width="1.9"/>
<path d="M170.51,359.88 V370.25" stroke="#0c9cfb" stroke-width="1.2" fill="none"/>
<path d="M167.21,359.88 h6.6 M167.21,370.25 h6.6" stroke="#0c9cfb" stroke-width="1.5" fill="none"/>
<circle cx="217.52" cy="332.46" r="3.2" fill="#fff" stroke="#0c9cfb" stroke-width="1.9"/>
<path d="M217.52,325.05 V339.87" stroke="#0c9cfb" stroke-width="1.2" fill="none"/>
<path d="M214.22,325.05 h6.6 M214.22,339.87 h6.6" stroke="#0c9cfb" stroke-width="1.5" fill="none"/>
<circle cx="241.02" cy="363.58" r="3.2" fill="#fff" stroke="#0c9cfb" stroke-width="1.9"/>
<path d="M241.02,360.62 V366.55" stroke="#0c9cfb" stroke-width="1.2" fill="none"/>
<path d="M238.62,360.62 h4.8 M238.62,366.55 h4.8" stroke="#0c9cfb" stroke-width="1.5" fill="none"/>
<circle cx="264.53" cy="382.36" r="3.2" fill="#fff" stroke="#0c9cfb" stroke-width="1.9"/>
<path d="M264.53,380.38 V384.33" stroke="#0c9cfb" stroke-width="1.2" fill="none"/>
<path d="M262.13,380.38 h4.8 M262.13,384.33 h4.8" stroke="#0c9cfb" stroke-width="1.5" fill="none"/>
<circle cx="288.03" cy="397.67" r="3.2" fill="#fff" stroke="#0c9cfb" stroke-width="1.9"/>
<path d="M288.03,395.69 V399.64" stroke="#0c9cfb" stroke-width="1.2" fill="none"/>
<path d="M285.63,395.69 h4.8 M285.63,399.64 h4.8" stroke="#0c9cfb" stroke-width="1.5" fill="none"/>
<circle cx="311.54" cy="405.57" r="3.2" fill="#fff" stroke="#0c9cfb" stroke-width="1.9"/>
<path d="M311.54,403.10 V408.04" stroke="#0c9cfb" stroke-width="1.2" fill="none"/>
<path d="M309.14,403.10 h4.8 M309.14,408.04 h4.8" stroke="#0c9cfb" stroke-width="1.5" fill="none"/>
<path d="M485.5,255 V413.4 H681.8" fill="none" stroke="#444" stroke-width="1.4"/>
<line x1="481.9" y1="274.8" x2="485.5" y2="274.8" stroke="#555" stroke-width="1.2"/>
<text x="475" y="280.0" font-size="15" text-anchor="end" font-weight="normal" >wt</text>
<line x1="481.9" y1="314.3" x2="485.5" y2="314.3" stroke="#555" stroke-width="1.2"/>
<text x="475" y="319.5" font-size="15" text-anchor="end" font-weight="normal" >wt / KN</text>
<line x1="481.9" y1="353.7" x2="485.5" y2="353.7" stroke="#555" stroke-width="1.2"/>
<text x="475" y="358.9" font-size="15" text-anchor="end" font-weight="normal" >0.2 µM</text>
<line x1="481.9" y1="393.1" x2="485.5" y2="393.1" stroke="#555" stroke-width="1.2"/>
<text x="475" y="398.3" font-size="15" text-anchor="end" font-weight="normal" >2 µM</text>
<line x1="516.5" y1="413.4" x2="516.5" y2="416.9" stroke="#333" stroke-width="1.2"/>
<text x="516.5" y="431.2" font-size="16" text-anchor="middle" font-weight="normal" >-120</text>
<line x1="583.25" y1="413.4" x2="583.25" y2="416.9" stroke="#333" stroke-width="1.2"/>
<text x="583.25" y="431.2" font-size="16" text-anchor="middle" font-weight="normal" >-105</text>
<line x1="650.0" y1="413.4" x2="650.0" y2="416.9" stroke="#333" stroke-width="1.2"/>
<text x="650.0" y="431.2" font-size="16" text-anchor="middle" font-weight="normal" >-90</text>
<text x="554" y="451.8" font-size="15">V<tspan font-size="10.5" dy="4">1/2</tspan><tspan dy="-4">(mV)</tspan></text>
<circle cx="567.0" cy="266.7" r="4.15" fill="#000"/>
<circle cx="581.0" cy="274.9" r="4.15" fill="#000"/>
<circle cx="576.9" cy="282.8" r="4.15" fill="#000"/>
<circle cx="589.2" cy="274.9" r="4.15" fill="#000"/>
<circle cx="595.0" cy="266.7" r="4.15" fill="#000"/>
<circle cx="596.2" cy="282.8" r="4.15" fill="#000"/>
<circle cx="621.0" cy="262.9" r="4.15" fill="#000"/>
<circle cx="623.1" cy="270.8" r="4.15" fill="#000"/>
<circle cx="619.3" cy="278.9" r="4.15" fill="#000"/>
<circle cx="618.4" cy="286.8" r="4.15" fill="#000"/>
<circle cx="523.1" cy="314.4" r="2.9" fill="none" stroke="#000" stroke-width="1.7"/>
<circle cx="531.5" cy="309.2" r="2.9" fill="none" stroke="#000" stroke-width="1.7"/>
<circle cx="532.9" cy="319.8" r="2.9" fill="none" stroke="#000" stroke-width="1.7"/>
<circle cx="548.7" cy="301.1" r="2.9" fill="none" stroke="#000" stroke-width="1.7"/>
<circle cx="548.2" cy="317.2" r="2.9" fill="none" stroke="#000" stroke-width="1.7"/>
<circle cx="549.1" cy="327.4" r="2.9" fill="none" stroke="#000" stroke-width="1.7"/>
<circle cx="560.8" cy="306.4" r="2.9" fill="none" stroke="#000" stroke-width="1.7"/>
<circle cx="557.0" cy="311.8" r="2.9" fill="none" stroke="#000" stroke-width="1.7"/>
<circle cx="562.8" cy="311.8" r="2.9" fill="none" stroke="#000" stroke-width="1.7"/>
<circle cx="565.9" cy="317.2" r="2.9" fill="none" stroke="#000" stroke-width="1.7"/>
<circle cx="560.4" cy="322.3" r="2.9" fill="none" stroke="#000" stroke-width="1.7"/>
<circle cx="566.1" cy="353.9" r="3.05" fill="none" stroke="#0c9cfb" stroke-width="2"/>
<circle cx="578.1" cy="347.5" r="3.05" fill="none" stroke="#0c9cfb" stroke-width="2"/>
<circle cx="577.8" cy="360.4" r="3.05" fill="none" stroke="#0c9cfb" stroke-width="2"/>
<circle cx="587.1" cy="357.1" r="3.05" fill="none" stroke="#0c9cfb" stroke-width="2"/>
<circle cx="588.6" cy="363.6" r="3.05" fill="none" stroke="#0c9cfb" stroke-width="2"/>
<circle cx="599.1" cy="344.2" r="3.05" fill="none" stroke="#0c9cfb" stroke-width="2"/>
<circle cx="606.7" cy="347.5" r="3.05" fill="none" stroke="#0c9cfb" stroke-width="2"/>
<circle cx="603.2" cy="350.8" r="3.05" fill="none" stroke="#0c9cfb" stroke-width="2"/>
<circle cx="614.7" cy="341.3" r="3.05" fill="none" stroke="#0c9cfb" stroke-width="2"/>
<circle cx="619.6" cy="353.9" r="3.05" fill="none" stroke="#0c9cfb" stroke-width="2"/>
<circle cx="610.8" cy="360.4" r="3.05" fill="none" stroke="#0c9cfb" stroke-width="2"/>
<circle cx="619.0" cy="366.8" r="3.05" fill="none" stroke="#0c9cfb" stroke-width="2"/>
<circle cx="625.8" cy="383.1" r="2.9" fill="none" stroke="#2a3cf0" stroke-width="2"/>
<circle cx="637.2" cy="383.1" r="2.9" fill="none" stroke="#2a3cf0" stroke-width="2"/>
<circle cx="620.7" cy="393.6" r="2.9" fill="none" stroke="#2a3cf0" stroke-width="2"/>
<circle cx="634.0" cy="393.6" r="2.9" fill="none" stroke="#2a3cf0" stroke-width="2"/>
<circle cx="623.3" cy="404.3" r="2.9" fill="none" stroke="#2a3cf0" stroke-width="2"/>
<circle cx="636.9" cy="404.3" r="2.9" fill="none" stroke="#2a3cf0" stroke-width="2"/>
<path d="M598.5,258.5 V290.6 M592,274.9 H605.3 M592,272.5 v4.8 M605.3,272.5 v4.8" stroke="#333" stroke-width="1.2" fill="none"/>
<path d="M548.7,301 V327.5 M544.3,314 H553.8 M544.3,311.6 v4.8 M553.8,311.6 v4.8" stroke="#333" stroke-width="1.2" fill="none"/>
<path d="M597.4,338.2 V369.7 M592.5,353.9 H602.6 M592.5,351.5 v4.8 M602.6,351.5 v4.8" stroke="#333" stroke-width="1.2" fill="none"/>
<path d="M629.4,377.4 V409.9 M626.1,393.6 H632.5 M626.1,391.20000000000005 v4.8 M632.5,391.20000000000005 v4.8" stroke="#333" stroke-width="1.2" fill="none"/>
<text x="589.5" y="321.9" font-size="15.5" text-anchor="middle" font-weight="normal" >***</text>
<path d="M636.1,272.7 H644.9 V352.5 H636.1" fill="none" stroke="#777" stroke-width="1.2"/>
<path d="M659.1,272.7 H666.8 V392.5 H659.1" fill="none" stroke="#777" stroke-width="1.2"/>
<text transform="translate(649.9,312.5) rotate(90)" font-size="11.5" text-anchor="middle">n.s.</text>
<text transform="translate(669.5,332.5) rotate(90)" font-size="15" text-anchor="middle">***</text>
</svg>
</body></html>
